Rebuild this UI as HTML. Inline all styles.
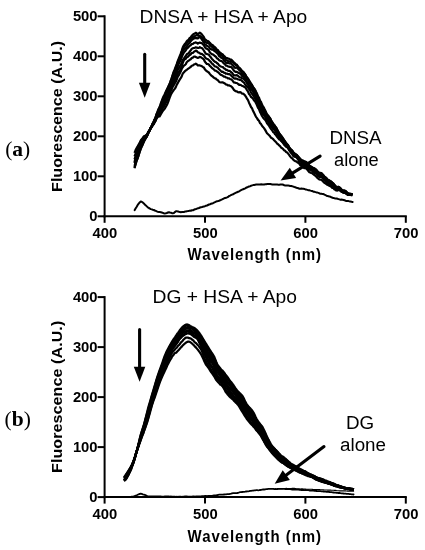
<!DOCTYPE html>
<html lang="en"><head><meta charset="utf-8"><title>Fluorescence spectra</title>
<style>html,body{margin:0;padding:0;background:#fff}svg{display:block;will-change:transform;transform:translateZ(0)}text{fill:#000}.s{font-family:"Liberation Sans", Arial, Helvetica, sans-serif}.sb{font-family:"Liberation Sans", Arial, Helvetica, sans-serif;font-weight:700}.tb{font-family:"Liberation Serif", "Times New Roman", Times, serif;font-weight:700}.ax{stroke:#000;stroke-width:2;fill:none;stroke-linecap:butt}.c{stroke:#000;stroke-width:2.2;fill:none;stroke-linejoin:round;stroke-linecap:butt}.c2{stroke:#000;stroke-width:2;fill:none;stroke-linejoin:round;stroke-linecap:round}.c3{stroke:#000;stroke-width:1.8;fill:none;stroke-linejoin:round;stroke-linecap:round}</style></head><body>
<svg width="425" height="550" viewBox="0 0 425 550">
<rect x="0" y="0" width="425" height="550" fill="#fff"/>
<path class="ax" d="M104.6,15.3 V217.3"/>
<path class="ax" d="M103.6,216.3 H406.8"/>
<path class="ax" d="M97.6,216.3 H104.6"/>
<text class="sb" font-size="14.8" text-anchor="end" x="97.6" y="220.9">0</text>
<path class="ax" d="M97.6,176.3 H104.6"/>
<text class="sb" font-size="14.8" text-anchor="end" x="97.6" y="180.9">100</text>
<path class="ax" d="M97.6,136.3 H104.6"/>
<text class="sb" font-size="14.8" text-anchor="end" x="97.6" y="140.9">200</text>
<path class="ax" d="M97.6,96.3 H104.6"/>
<text class="sb" font-size="14.8" text-anchor="end" x="97.6" y="100.9">300</text>
<path class="ax" d="M97.6,56.3 H104.6"/>
<text class="sb" font-size="14.8" text-anchor="end" x="97.6" y="60.9">400</text>
<path class="ax" d="M97.6,16.3 H104.6"/>
<text class="sb" font-size="14.8" text-anchor="end" x="97.6" y="20.9">500</text>
<path class="ax" d="M104.6,216.3 V222.8"/>
<text class="sb" font-size="14.8" text-anchor="middle" x="104.9" y="237.8">400</text>
<path class="ax" d="M205.0,216.3 V222.8"/>
<text class="sb" font-size="14.8" text-anchor="middle" x="205.3" y="237.8">500</text>
<path class="ax" d="M305.4,216.3 V222.8"/>
<text class="sb" font-size="14.8" text-anchor="middle" x="305.7" y="237.8">600</text>
<path class="ax" d="M405.8,216.3 V222.8"/>
<text class="sb" font-size="14.8" text-anchor="middle" x="406.1" y="237.8">700</text>
<text class="sb" font-size="15" textLength="133.5" lengthAdjust="spacing" transform="translate(187.6,260.3) scale(1,1.08)">Wavelength (nm)</text>
<text class="sb" font-size="15" textLength="141.1" lengthAdjust="spacing" transform="translate(62.3,191.9) rotate(-90) scale(1.07,1)">Fluorescence (A.U.)</text>
<path class="c" d="M134.5,152.9 L135.5,150.3 L136.5,148.3 L137.5,146.7 L138.5,144.8 L139.5,143.2 L140.5,140.9 L141.5,139.5 L142.6,138.3 L143.6,136.7 L144.6,135.9 L145.6,135.5 L146.6,134.9 L147.6,133.7 L148.6,132.1 L149.6,130.5 L150.6,128.3 L151.6,127.1 L152.6,125.1 L153.6,124.2 L154.6,121.9 L155.6,120.0 L156.6,118.2 L157.6,117.2 L158.6,116.4 L159.6,116.4 L160.6,114.6 L161.6,113.0 L162.6,111.2 L163.6,110.1 L164.6,108.9 L165.6,107.2 L166.6,105.5 L167.7,103.2 L168.7,100.5 L169.7,97.6 L170.7,95.0 L171.7,93.1 L172.7,91.5 L173.7,90.1 L174.7,88.9 L175.7,87.3 L176.7,84.9 L177.7,83.1 L178.7,81.3 L179.7,79.7 L180.7,78.2 L181.7,76.4 L182.7,73.7 L183.7,72.5 L184.7,71.4 L185.7,70.5 L186.7,69.8 L187.7,69.0 L188.7,68.4 L189.7,67.7 L190.7,66.9 L191.7,65.8 L192.8,65.5 L193.8,64.6 L194.8,64.2 L195.8,63.6 L196.8,64.3 L197.8,65.4 L198.8,65.4 L199.8,65.4 L200.8,65.8 L201.8,66.2 L202.8,66.9 L203.8,67.4 L204.8,69.2 L205.8,70.4 L206.8,71.3 L207.8,71.8 L208.8,72.5 L209.8,73.9 L210.8,75.1 L211.8,76.0 L212.8,76.6 L213.8,77.6 L214.8,78.3 L215.8,78.6 L216.8,79.6 L217.9,80.2 L218.9,81.6 L219.9,82.2 L220.9,82.5 L221.9,82.3 L222.9,82.4 L223.9,82.9 L224.9,83.4 L225.9,84.5 L226.9,84.6 L227.9,85.4 L228.9,85.3 L229.9,85.8 L230.9,86.2 L231.9,87.0 L232.9,88.2 L233.9,89.9 L234.9,90.8 L235.9,91.3 L236.9,91.3 L237.9,92.1 L238.9,92.3 L239.9,92.2 L240.9,92.4 L241.9,93.6 L243.0,93.5 L244.0,94.4 L245.0,95.3 L246.0,96.8 L247.0,98.7 L248.0,100.2 L249.0,102.7 L250.0,104.7 L251.0,107.0 L252.0,108.2 L253.0,110.8 L254.0,112.6 L255.0,114.8 L256.0,116.9 L257.0,118.1 L258.0,119.9 L259.0,120.8 L260.0,123.1 L261.0,123.9 L262.0,125.8 L263.0,126.9 L264.0,128.1 L265.0,129.6 L266.0,131.4 L267.0,133.3 L268.1,134.3 L269.1,135.2 L270.1,136.3 L271.1,137.8 L272.1,138.2 L273.1,139.1 L274.1,140.2 L275.1,141.2 L276.1,142.2 L277.1,143.6 L278.1,144.2 L279.1,145.4 L280.1,146.2 L281.1,147.6 L282.1,148.2 L283.1,149.0 L284.1,150.3 L285.1,150.8 L286.1,151.9 L287.1,152.4 L288.1,153.6 L289.1,154.9 L290.1,156.4 L291.1,157.6 L292.1,158.2 L293.2,159.7 L294.2,160.5 L295.2,161.2 L296.2,161.4 L297.2,162.2 L298.2,162.8 L299.2,163.5 L300.2,165.1 L301.2,165.4 L302.2,166.7 L303.2,167.4 L304.2,168.1 L305.2,168.1 L306.2,168.6 L307.2,169.5 L308.2,170.8 L309.2,172.1 L310.2,172.4 L311.2,173.0 L312.2,173.3 L313.2,174.2 L314.2,175.0 L315.2,175.6 L316.2,176.5 L317.2,177.7 L318.3,178.6 L319.3,179.4 L320.3,179.6 L321.3,179.6 L322.3,180.6 L323.3,181.8 L324.3,182.8 L325.3,183.4 L326.3,184.0 L327.3,184.8 L328.3,185.1 L329.3,185.8 L330.3,186.2 L331.3,186.9 L332.3,187.9 L333.3,187.9 L334.3,189.3 L335.3,189.8 L336.3,190.5 L337.3,190.6 L338.3,190.0 L339.3,190.3 L340.3,190.6 L341.3,191.4 L342.3,192.1 L343.4,192.7 L344.4,192.3 L345.4,192.9 L346.4,193.6 L347.4,193.9 L348.4,194.8 L349.4,194.7 L350.4,194.9 L351.4,195.1 L352.4,195.3"/>
<path class="c" d="M134.5,156.4 L135.5,153.8 L136.5,151.5 L137.5,149.6 L138.5,147.0 L139.5,144.6 L140.5,142.1 L141.5,140.0 L142.6,139.1 L143.6,137.6 L144.6,136.5 L145.6,136.1 L146.6,134.9 L147.6,133.6 L148.6,131.7 L149.6,130.3 L150.6,128.1 L151.6,126.7 L152.6,124.7 L153.6,123.9 L154.6,122.2 L155.6,120.3 L156.6,117.6 L157.6,116.1 L158.6,114.7 L159.6,114.1 L160.6,112.6 L161.6,110.3 L162.6,108.4 L163.6,107.2 L164.6,105.6 L165.6,103.3 L166.6,101.3 L167.7,98.2 L168.7,96.1 L169.7,93.9 L170.7,91.2 L171.7,89.4 L172.7,86.9 L173.7,85.3 L174.7,83.4 L175.7,81.9 L176.7,79.7 L177.7,76.9 L178.7,75.4 L179.7,73.4 L180.7,71.5 L181.7,69.0 L182.7,67.3 L183.7,65.9 L184.7,65.2 L185.7,64.3 L186.7,62.2 L187.7,61.2 L188.7,60.6 L189.7,59.8 L190.7,59.3 L191.7,58.0 L192.8,57.6 L193.8,56.7 L194.8,56.6 L195.8,57.1 L196.8,57.6 L197.8,58.0 L198.8,57.6 L199.8,56.9 L200.8,57.2 L201.8,57.9 L202.8,58.5 L203.8,59.5 L204.8,61.5 L205.8,62.8 L206.8,63.9 L207.8,64.0 L208.8,64.5 L209.8,65.9 L210.8,66.7 L211.8,67.9 L212.8,68.7 L213.8,69.4 L214.8,70.6 L215.8,70.6 L216.8,71.3 L217.9,72.2 L218.9,73.0 L219.9,74.1 L220.9,74.9 L221.9,75.2 L222.9,75.9 L223.9,76.6 L224.9,76.7 L225.9,77.5 L226.9,77.5 L227.9,78.3 L228.9,78.3 L229.9,78.9 L230.9,79.3 L231.9,79.9 L232.9,81.2 L233.9,82.5 L234.9,82.6 L235.9,83.0 L236.9,83.0 L237.9,83.8 L238.9,84.8 L239.9,84.7 L240.9,85.0 L241.9,85.8 L243.0,86.1 L244.0,86.7 L245.0,87.2 L246.0,88.4 L247.0,90.1 L248.0,91.5 L249.0,94.0 L250.0,95.0 L251.0,96.9 L252.0,97.8 L253.0,98.7 L254.0,100.4 L255.0,101.3 L256.0,103.1 L257.0,105.3 L258.0,107.8 L259.0,109.1 L260.0,112.0 L261.0,113.7 L262.0,116.0 L263.0,117.5 L264.0,118.7 L265.0,119.7 L266.0,121.1 L267.0,123.2 L268.1,124.5 L269.1,125.9 L270.1,127.6 L271.1,129.1 L272.1,130.3 L273.1,132.0 L274.1,132.7 L275.1,134.3 L276.1,135.3 L277.1,136.8 L278.1,138.1 L279.1,139.4 L280.1,139.7 L281.1,141.0 L282.1,141.8 L283.1,143.2 L284.1,144.7 L285.1,145.7 L286.1,146.8 L287.1,147.3 L288.1,148.2 L289.1,150.0 L290.1,151.7 L291.1,153.0 L292.1,154.1 L293.2,155.9 L294.2,156.7 L295.2,156.8 L296.2,157.3 L297.2,158.3 L298.2,159.5 L299.2,161.7 L300.2,163.4 L301.2,163.6 L302.2,164.4 L303.2,164.8 L304.2,165.2 L305.2,165.4 L306.2,166.1 L307.2,167.5 L308.2,168.5 L309.2,169.7 L310.2,169.9 L311.2,170.4 L312.2,171.0 L313.2,172.3 L314.2,172.8 L315.2,173.2 L316.2,173.7 L317.2,174.8 L318.3,176.3 L319.3,176.8 L320.3,176.9 L321.3,177.0 L322.3,177.5 L323.3,178.7 L324.3,180.4 L325.3,181.1 L326.3,182.1 L327.3,183.4 L328.3,184.2 L329.3,184.4 L330.3,185.5 L331.3,185.4 L332.3,186.0 L333.3,186.5 L334.3,187.4 L335.3,188.7 L336.3,189.9 L337.3,189.6 L338.3,189.4 L339.3,189.5 L340.3,190.3 L341.3,191.5 L342.3,191.9 L343.4,192.6 L344.4,192.8 L345.4,193.1 L346.4,193.9 L347.4,194.8 L348.4,195.0 L349.4,195.0 L350.4,194.8 L351.4,195.0 L352.4,194.9"/>
<path class="c" d="M134.5,159.3 L135.5,156.3 L136.5,153.6 L137.5,151.2 L138.5,148.8 L139.5,146.4 L140.5,144.0 L141.5,142.1 L142.6,140.8 L143.6,138.7 L144.6,137.6 L145.6,136.6 L146.6,135.2 L147.6,133.7 L148.6,131.9 L149.6,130.5 L150.6,128.3 L151.6,127.1 L152.6,125.6 L153.6,124.1 L154.6,122.3 L155.6,120.8 L156.6,117.8 L157.6,116.1 L158.6,114.2 L159.6,113.2 L160.6,111.3 L161.6,109.3 L162.6,107.4 L163.6,104.7 L164.6,103.0 L165.6,100.8 L166.6,99.0 L167.7,97.3 L168.7,94.6 L169.7,91.6 L170.7,88.9 L171.7,86.5 L172.7,84.1 L173.7,82.3 L174.7,80.6 L175.7,77.9 L176.7,76.2 L177.7,73.6 L178.7,71.8 L179.7,71.0 L180.7,68.8 L181.7,66.1 L182.7,63.1 L183.7,60.7 L184.7,59.4 L185.7,58.8 L186.7,57.3 L187.7,56.9 L188.7,55.9 L189.7,54.9 L190.7,54.4 L191.7,53.0 L192.8,53.0 L193.8,51.9 L194.8,51.3 L195.8,50.6 L196.8,51.1 L197.8,52.2 L198.8,52.6 L199.8,53.3 L200.8,53.9 L201.8,53.9 L202.8,54.7 L203.8,55.2 L204.8,56.9 L205.8,58.3 L206.8,58.8 L207.8,59.1 L208.8,59.8 L209.8,61.1 L210.8,61.9 L211.8,63.5 L212.8,64.0 L213.8,65.2 L214.8,66.4 L215.8,66.5 L216.8,67.1 L217.9,67.8 L218.9,69.2 L219.9,70.0 L220.9,71.0 L221.9,71.8 L222.9,71.7 L223.9,72.6 L224.9,72.9 L225.9,73.8 L226.9,73.5 L227.9,74.1 L228.9,74.1 L229.9,74.4 L230.9,75.2 L231.9,76.4 L232.9,77.2 L233.9,78.3 L234.9,78.6 L235.9,78.4 L236.9,78.8 L237.9,79.3 L238.9,79.5 L239.9,79.9 L240.9,80.0 L241.9,80.9 L243.0,81.9 L244.0,82.6 L245.0,84.3 L246.0,85.6 L247.0,86.6 L248.0,87.5 L249.0,89.0 L250.0,90.2 L251.0,92.6 L252.0,93.8 L253.0,95.2 L254.0,96.8 L255.0,98.2 L256.0,100.5 L257.0,102.8 L258.0,105.2 L259.0,106.4 L260.0,109.2 L261.0,110.4 L262.0,112.7 L263.0,114.3 L264.0,115.1 L265.0,116.7 L266.0,118.6 L267.0,120.6 L268.1,121.8 L269.1,123.3 L270.1,124.7 L271.1,126.3 L272.1,127.5 L273.1,128.8 L274.1,129.5 L275.1,130.9 L276.1,132.3 L277.1,134.1 L278.1,135.7 L279.1,137.6 L280.1,138.5 L281.1,140.0 L282.1,141.4 L283.1,142.5 L284.1,144.0 L285.1,144.8 L286.1,145.8 L287.1,146.6 L288.1,147.7 L289.1,149.6 L290.1,150.6 L291.1,151.7 L292.1,152.4 L293.2,153.6 L294.2,154.4 L295.2,155.4 L296.2,156.0 L297.2,157.3 L298.2,158.4 L299.2,159.5 L300.2,161.0 L301.2,161.5 L302.2,162.8 L303.2,163.2 L304.2,164.1 L305.2,164.0 L306.2,164.3 L307.2,165.5 L308.2,166.6 L309.2,167.9 L310.2,168.8 L311.2,169.6 L312.2,170.0 L313.2,170.7 L314.2,171.1 L315.2,172.7 L316.2,173.2 L317.2,174.4 L318.3,175.5 L319.3,175.8 L320.3,176.2 L321.3,176.4 L322.3,177.0 L323.3,178.1 L324.3,179.0 L325.3,179.8 L326.3,181.2 L327.3,182.4 L328.3,183.5 L329.3,183.6 L330.3,184.4 L331.3,185.0 L332.3,186.1 L333.3,186.8 L334.3,188.0 L335.3,188.9 L336.3,189.4 L337.3,189.4 L338.3,189.1 L339.3,189.2 L340.3,190.0 L341.3,191.2 L342.3,191.6 L343.4,191.9 L344.4,191.8 L345.4,191.8 L346.4,192.8 L347.4,193.9 L348.4,194.1 L349.4,194.4 L350.4,194.5 L351.4,194.3 L352.4,194.8"/>
<path class="c" d="M134.5,162.0 L135.5,158.3 L136.5,155.9 L137.5,153.5 L138.5,151.0 L139.5,148.7 L140.5,145.6 L141.5,143.8 L142.6,141.9 L143.6,139.9 L144.6,138.8 L145.6,137.5 L146.6,135.3 L147.6,134.0 L148.6,131.7 L149.6,130.3 L150.6,128.3 L151.6,127.1 L152.6,124.8 L153.6,123.1 L154.6,121.1 L155.6,119.5 L156.6,116.5 L157.6,114.8 L158.6,112.7 L159.6,110.7 L160.6,109.0 L161.6,106.5 L162.6,104.0 L163.6,102.4 L164.6,100.7 L165.6,99.0 L166.6,97.4 L167.7,95.3 L168.7,92.9 L169.7,89.8 L170.7,87.2 L171.7,84.9 L172.7,82.0 L173.7,79.8 L174.7,77.9 L175.7,75.5 L176.7,73.2 L177.7,70.3 L178.7,68.4 L179.7,66.5 L180.7,64.8 L181.7,62.9 L182.7,60.1 L183.7,58.8 L184.7,57.3 L185.7,56.0 L186.7,54.4 L187.7,53.5 L188.7,53.4 L189.7,51.6 L190.7,50.5 L191.7,48.9 L192.8,48.3 L193.8,48.0 L194.8,47.8 L195.8,47.3 L196.8,47.7 L197.8,47.9 L198.8,48.0 L199.8,47.1 L200.8,47.7 L201.8,48.0 L202.8,49.0 L203.8,50.5 L204.8,52.1 L205.8,53.7 L206.8,54.0 L207.8,54.3 L208.8,54.7 L209.8,56.1 L210.8,57.3 L211.8,58.7 L212.8,59.7 L213.8,60.9 L214.8,61.8 L215.8,61.9 L216.8,63.0 L217.9,63.7 L218.9,65.1 L219.9,65.9 L220.9,66.5 L221.9,66.8 L222.9,67.0 L223.9,68.3 L224.9,68.7 L225.9,69.8 L226.9,69.9 L227.9,70.6 L228.9,70.8 L229.9,71.0 L230.9,72.0 L231.9,72.6 L232.9,74.0 L233.9,75.5 L234.9,75.3 L235.9,75.4 L236.9,75.0 L237.9,75.8 L238.9,76.8 L239.9,77.3 L240.9,77.5 L241.9,78.3 L243.0,78.3 L244.0,79.2 L245.0,80.4 L246.0,81.6 L247.0,83.6 L248.0,84.7 L249.0,86.6 L250.0,87.8 L251.0,89.5 L252.0,90.1 L253.0,91.8 L254.0,93.8 L255.0,95.4 L256.0,98.2 L257.0,100.0 L258.0,102.1 L259.0,103.5 L260.0,106.0 L261.0,107.7 L262.0,110.5 L263.0,112.2 L264.0,113.7 L265.0,115.2 L266.0,116.9 L267.0,118.9 L268.1,120.3 L269.1,121.7 L270.1,123.3 L271.1,124.8 L272.1,125.9 L273.1,127.9 L274.1,128.2 L275.1,129.9 L276.1,130.9 L277.1,132.3 L278.1,133.9 L279.1,136.7 L280.1,138.0 L281.1,139.3 L282.1,140.1 L283.1,140.6 L284.1,142.1 L285.1,143.5 L286.1,145.0 L287.1,146.2 L288.1,147.3 L289.1,149.1 L290.1,150.4 L291.1,150.9 L292.1,151.3 L293.2,152.5 L294.2,154.0 L295.2,155.1 L296.2,155.8 L297.2,157.7 L298.2,159.0 L299.2,159.9 L300.2,161.4 L301.2,161.5 L302.2,161.9 L303.2,162.5 L304.2,163.1 L305.2,162.6 L306.2,163.7 L307.2,164.5 L308.2,165.1 L309.2,166.6 L310.2,166.5 L311.2,167.9 L312.2,168.7 L313.2,169.6 L314.2,170.7 L315.2,171.0 L316.2,171.4 L317.2,172.5 L318.3,173.3 L319.3,174.8 L320.3,174.8 L321.3,175.0 L322.3,176.2 L323.3,177.5 L324.3,178.7 L325.3,180.1 L326.3,181.2 L327.3,181.8 L328.3,182.9 L329.3,183.5 L330.3,184.0 L331.3,184.6 L332.3,185.6 L333.3,185.3 L334.3,186.4 L335.3,187.2 L336.3,188.4 L337.3,188.5 L338.3,188.1 L339.3,188.4 L340.3,188.9 L341.3,189.9 L342.3,190.6 L343.4,191.5 L344.4,191.6 L345.4,192.3 L346.4,193.4 L347.4,194.1 L348.4,194.3 L349.4,194.3 L350.4,194.4 L351.4,194.4 L352.4,195.0"/>
<path class="c" d="M134.5,163.3 L135.5,159.8 L136.5,156.3 L137.5,154.0 L138.5,152.1 L139.5,149.5 L140.5,146.9 L141.5,144.6 L142.6,143.0 L143.6,140.8 L144.6,139.4 L145.6,138.4 L146.6,136.9 L147.6,135.0 L148.6,132.3 L149.6,130.5 L150.6,128.3 L151.6,126.7 L152.6,124.2 L153.6,122.5 L154.6,120.0 L155.6,118.3 L156.6,115.6 L157.6,113.8 L158.6,111.7 L159.6,110.0 L160.6,107.4 L161.6,104.6 L162.6,102.5 L163.6,100.5 L164.6,98.6 L165.6,96.1 L166.6,93.7 L167.7,91.7 L168.7,89.6 L169.7,87.2 L170.7,84.5 L171.7,82.1 L172.7,79.3 L173.7,76.9 L174.7,74.9 L175.7,71.8 L176.7,69.0 L177.7,66.6 L178.7,63.8 L179.7,62.1 L180.7,60.2 L181.7,57.3 L182.7,54.8 L183.7,52.9 L184.7,51.6 L185.7,50.5 L186.7,48.8 L187.7,47.9 L188.7,46.9 L189.7,45.7 L190.7,45.2 L191.7,44.1 L192.8,44.0 L193.8,43.1 L194.8,42.7 L195.8,42.4 L196.8,42.8 L197.8,43.6 L198.8,43.0 L199.8,42.5 L200.8,43.0 L201.8,43.1 L202.8,44.2 L203.8,45.2 L204.8,47.0 L205.8,48.2 L206.8,48.8 L207.8,49.3 L208.8,50.1 L209.8,52.2 L210.8,53.2 L211.8,54.1 L212.8,54.3 L213.8,55.1 L214.8,56.0 L215.8,56.7 L216.8,58.2 L217.9,58.8 L218.9,60.0 L219.9,60.7 L220.9,60.9 L221.9,61.2 L222.9,62.3 L223.9,63.6 L224.9,64.1 L225.9,65.6 L226.9,65.7 L227.9,66.4 L228.9,66.6 L229.9,66.9 L230.9,66.9 L231.9,67.8 L232.9,69.2 L233.9,70.7 L234.9,71.4 L235.9,71.9 L236.9,71.9 L237.9,72.5 L238.9,73.1 L239.9,73.6 L240.9,74.2 L241.9,75.9 L243.0,76.6 L244.0,77.1 L245.0,78.6 L246.0,79.8 L247.0,81.5 L248.0,83.0 L249.0,85.0 L250.0,86.5 L251.0,87.8 L252.0,88.6 L253.0,89.9 L254.0,90.8 L255.0,93.1 L256.0,95.6 L257.0,97.5 L258.0,100.0 L259.0,101.7 L260.0,104.1 L261.0,105.2 L262.0,108.1 L263.0,109.3 L264.0,110.8 L265.0,113.1 L266.0,115.0 L267.0,116.9 L268.1,118.3 L269.1,119.5 L270.1,120.8 L271.1,123.1 L272.1,124.5 L273.1,126.7 L274.1,127.6 L275.1,129.3 L276.1,130.4 L277.1,131.7 L278.1,133.6 L279.1,135.5 L280.1,136.9 L281.1,138.3 L282.1,139.0 L283.1,139.9 L284.1,141.4 L285.1,142.8 L286.1,144.7 L287.1,145.8 L288.1,147.1 L289.1,149.1 L290.1,150.3 L291.1,151.0 L292.1,151.3 L293.2,152.4 L294.2,153.7 L295.2,154.7 L296.2,155.7 L297.2,157.0 L298.2,158.2 L299.2,159.7 L300.2,160.7 L301.2,160.8 L302.2,161.3 L303.2,161.6 L304.2,162.4 L305.2,162.7 L306.2,163.5 L307.2,164.2 L308.2,165.3 L309.2,166.2 L310.2,166.2 L311.2,167.5 L312.2,167.9 L313.2,169.1 L314.2,169.5 L315.2,170.4 L316.2,170.8 L317.2,172.0 L318.3,173.4 L319.3,173.4 L320.3,173.7 L321.3,173.8 L322.3,175.1 L323.3,177.0 L324.3,178.4 L325.3,178.7 L326.3,179.5 L327.3,180.9 L328.3,181.7 L329.3,182.4 L330.3,182.7 L331.3,182.7 L332.3,184.5 L333.3,185.1 L334.3,187.1 L335.3,188.1 L336.3,188.3 L337.3,188.5 L338.3,187.6 L339.3,188.0 L340.3,189.0 L341.3,190.0 L342.3,191.1 L343.4,191.6 L344.4,191.3 L345.4,191.2 L346.4,192.1 L347.4,193.0 L348.4,193.5 L349.4,193.7 L350.4,193.8 L351.4,194.1 L352.4,194.5"/>
<path class="c" d="M134.5,165.8 L135.5,162.8 L136.5,159.5 L137.5,156.6 L138.5,153.6 L139.5,150.3 L140.5,147.6 L141.5,145.3 L142.6,143.4 L143.6,141.2 L144.6,139.4 L145.6,137.9 L146.6,136.5 L147.6,134.7 L148.6,131.7 L149.6,130.3 L150.6,128.1 L151.6,126.3 L152.6,123.8 L153.6,122.0 L154.6,119.6 L155.6,118.1 L156.6,115.0 L157.6,113.2 L158.6,110.5 L159.6,108.5 L160.6,106.5 L161.6,103.7 L162.6,101.4 L163.6,98.8 L164.6,96.9 L165.6,94.3 L166.6,91.7 L167.7,90.4 L168.7,88.2 L169.7,86.3 L170.7,83.8 L171.7,81.0 L172.7,78.2 L173.7,75.4 L174.7,73.4 L175.7,70.0 L176.7,67.1 L177.7,63.1 L178.7,60.4 L179.7,58.5 L180.7,56.0 L181.7,53.9 L182.7,51.3 L183.7,49.7 L184.7,48.9 L185.7,47.7 L186.7,46.5 L187.7,44.9 L188.7,43.7 L189.7,42.8 L190.7,41.2 L191.7,40.0 L192.8,39.3 L193.8,38.2 L194.8,38.3 L195.8,37.7 L196.8,38.3 L197.8,38.4 L198.8,37.4 L199.8,37.1 L200.8,37.9 L201.8,39.4 L202.8,40.9 L203.8,42.2 L204.8,44.1 L205.8,44.8 L206.8,45.7 L207.8,46.3 L208.8,46.7 L209.8,48.4 L210.8,48.9 L211.8,49.6 L212.8,49.7 L213.8,50.5 L214.8,51.2 L215.8,51.8 L216.8,52.9 L217.9,53.8 L218.9,55.8 L219.9,56.5 L220.9,57.5 L221.9,58.0 L222.9,58.5 L223.9,60.4 L224.9,61.4 L225.9,62.6 L226.9,62.9 L227.9,63.0 L228.9,63.2 L229.9,63.6 L230.9,62.9 L231.9,64.5 L232.9,65.6 L233.9,66.7 L234.9,67.9 L235.9,67.6 L236.9,67.5 L237.9,68.7 L238.9,69.6 L239.9,70.6 L240.9,71.7 L241.9,73.5 L243.0,74.6 L244.0,76.0 L245.0,76.9 L246.0,78.0 L247.0,79.1 L248.0,79.4 L249.0,82.0 L250.0,83.3 L251.0,85.7 L252.0,87.3 L253.0,88.4 L254.0,89.7 L255.0,91.2 L256.0,93.2 L257.0,95.5 L258.0,98.4 L259.0,99.7 L260.0,102.4 L261.0,103.7 L262.0,106.1 L263.0,108.1 L264.0,110.5 L265.0,112.5 L266.0,114.7 L267.0,116.5 L268.1,117.0 L269.1,117.8 L270.1,119.0 L271.1,121.0 L272.1,122.5 L273.1,124.7 L274.1,125.8 L275.1,127.4 L276.1,128.3 L277.1,130.6 L278.1,132.4 L279.1,134.9 L280.1,136.5 L281.1,137.8 L282.1,138.7 L283.1,139.7 L284.1,141.8 L285.1,142.6 L286.1,144.4 L287.1,145.6 L288.1,146.2 L289.1,148.5 L290.1,150.0 L291.1,150.6 L292.1,151.4 L293.2,152.8 L294.2,153.3 L295.2,154.2 L296.2,154.5 L297.2,155.7 L298.2,157.1 L299.2,157.9 L300.2,159.7 L301.2,160.3 L302.2,161.2 L303.2,161.9 L304.2,162.3 L305.2,162.4 L306.2,162.8 L307.2,163.6 L308.2,164.7 L309.2,166.4 L310.2,166.1 L311.2,167.4 L312.2,167.8 L313.2,168.0 L314.2,169.5 L315.2,169.8 L316.2,170.3 L317.2,171.8 L318.3,172.5 L319.3,173.5 L320.3,173.8 L321.3,173.6 L322.3,175.0 L323.3,176.1 L324.3,177.5 L325.3,178.0 L326.3,178.5 L327.3,179.8 L328.3,180.0 L329.3,180.7 L330.3,181.4 L331.3,181.6 L332.3,183.5 L333.3,183.7 L334.3,185.1 L335.3,186.6 L336.3,187.3 L337.3,188.1 L338.3,188.1 L339.3,188.1 L340.3,188.8 L341.3,189.9 L342.3,190.7 L343.4,191.4 L344.4,191.4 L345.4,191.4 L346.4,192.1 L347.4,193.6 L348.4,194.0 L349.4,194.0 L350.4,194.0 L351.4,194.1 L352.4,194.6"/>
<path class="c" d="M134.5,167.6 L135.5,163.9 L136.5,160.9 L137.5,158.6 L138.5,155.6 L139.5,152.3 L140.5,149.4 L141.5,146.8 L142.6,144.4 L143.6,142.1 L144.6,139.9 L145.6,137.5 L146.6,135.7 L147.6,133.8 L148.6,131.7 L149.6,130.3 L150.6,128.1 L151.6,126.3 L152.6,123.8 L153.6,122.0 L154.6,119.7 L155.6,117.4 L156.6,114.1 L157.6,112.2 L158.6,109.4 L159.6,107.7 L160.6,105.2 L161.6,102.1 L162.6,99.5 L163.6,97.6 L164.6,95.7 L165.6,93.0 L166.6,90.9 L167.7,88.3 L168.7,85.7 L169.7,83.5 L170.7,80.7 L171.7,78.4 L172.7,75.3 L173.7,72.7 L174.7,70.7 L175.7,67.5 L176.7,65.2 L177.7,62.5 L178.7,60.1 L179.7,57.8 L180.7,55.4 L181.7,52.1 L182.7,49.1 L183.7,47.4 L184.7,45.8 L185.7,44.7 L186.7,43.4 L187.7,42.1 L188.7,41.4 L189.7,40.1 L190.7,38.6 L191.7,37.2 L192.8,37.3 L193.8,36.4 L194.8,36.0 L195.8,35.5 L196.8,35.1 L197.8,35.6 L198.8,35.4 L199.8,35.8 L200.8,36.5 L201.8,37.5 L202.8,38.7 L203.8,39.5 L204.8,41.2 L205.8,42.2 L206.8,42.9 L207.8,43.0 L208.8,43.4 L209.8,45.0 L210.8,45.8 L211.8,46.6 L212.8,47.6 L213.8,48.4 L214.8,49.5 L215.8,49.8 L216.8,50.5 L217.9,51.5 L218.9,53.0 L219.9,54.3 L220.9,55.4 L221.9,55.8 L222.9,56.4 L223.9,57.9 L224.9,58.4 L225.9,60.1 L226.9,60.5 L227.9,61.0 L228.9,61.5 L229.9,61.2 L230.9,60.9 L231.9,61.3 L232.9,62.1 L233.9,63.6 L234.9,64.4 L235.9,65.3 L236.9,65.1 L237.9,66.7 L238.9,67.6 L239.9,68.3 L240.9,69.9 L241.9,70.9 L243.0,71.8 L244.0,72.8 L245.0,74.1 L246.0,75.9 L247.0,77.9 L248.0,79.1 L249.0,81.0 L250.0,82.2 L251.0,84.1 L252.0,85.1 L253.0,87.3 L254.0,88.6 L255.0,90.0 L256.0,92.7 L257.0,94.6 L258.0,97.5 L259.0,99.3 L260.0,102.1 L261.0,103.6 L262.0,106.4 L263.0,107.8 L264.0,109.7 L265.0,111.4 L266.0,113.2 L267.0,115.2 L268.1,116.0 L269.1,117.4 L270.1,118.5 L271.1,120.9 L272.1,122.6 L273.1,124.3 L274.1,125.1 L275.1,126.4 L276.1,127.6 L277.1,129.5 L278.1,131.6 L279.1,133.3 L280.1,134.4 L281.1,135.8 L282.1,137.0 L283.1,138.4 L284.1,140.1 L285.1,141.6 L286.1,143.1 L287.1,144.3 L288.1,145.1 L289.1,147.6 L290.1,148.6 L291.1,149.9 L292.1,150.8 L293.2,152.2 L294.2,153.2 L295.2,154.8 L296.2,155.1 L297.2,155.8 L298.2,157.0 L299.2,157.8 L300.2,159.5 L301.2,160.5 L302.2,160.9 L303.2,161.1 L304.2,161.4 L305.2,161.6 L306.2,162.0 L307.2,163.1 L308.2,164.6 L309.2,166.1 L310.2,166.0 L311.2,167.1 L312.2,167.4 L313.2,168.4 L314.2,169.0 L315.2,169.7 L316.2,170.1 L317.2,171.0 L318.3,172.1 L319.3,173.2 L320.3,173.2 L321.3,173.2 L322.3,174.3 L323.3,175.3 L324.3,176.5 L325.3,177.4 L326.3,178.5 L327.3,180.0 L328.3,180.4 L329.3,181.0 L330.3,181.9 L331.3,182.0 L332.3,183.9 L333.3,184.1 L334.3,185.1 L335.3,186.2 L336.3,186.9 L337.3,187.0 L338.3,186.8 L339.3,187.3 L340.3,188.1 L341.3,189.3 L342.3,190.0 L343.4,190.5 L344.4,190.5 L345.4,190.9 L346.4,192.0 L347.4,193.0 L348.4,193.5 L349.4,193.7 L350.4,193.8 L351.4,194.1 L352.4,194.5"/>
<path class="c" d="M134.5,168.3 L135.5,164.6 L136.5,161.2 L137.5,158.6 L138.5,155.6 L139.5,152.5 L140.5,149.4 L141.5,147.1 L142.6,144.9 L143.6,142.4 L144.6,140.2 L145.6,138.4 L146.6,136.9 L147.6,134.6 L148.6,132.3 L149.6,130.4 L150.6,128.1 L151.6,126.3 L152.6,123.8 L153.6,122.0 L154.6,119.6 L155.6,117.4 L156.6,114.1 L157.6,111.5 L158.6,109.0 L159.6,107.0 L160.6,104.0 L161.6,101.3 L162.6,98.5 L163.6,96.3 L164.6,94.4 L165.6,92.1 L166.6,90.1 L167.7,88.0 L168.7,86.0 L169.7,84.3 L170.7,81.4 L171.7,78.2 L172.7,74.9 L173.7,71.6 L174.7,69.5 L175.7,66.8 L176.7,64.2 L177.7,61.1 L178.7,58.6 L179.7,56.3 L180.7,53.7 L181.7,50.8 L182.7,47.6 L183.7,45.6 L184.7,44.0 L185.7,43.0 L186.7,41.3 L187.7,40.3 L188.7,39.6 L189.7,37.9 L190.7,37.4 L191.7,35.7 L192.8,34.9 L193.8,33.9 L194.8,33.4 L195.8,32.8 L196.8,33.4 L197.8,34.0 L198.8,33.3 L199.8,32.6 L200.8,33.4 L201.8,34.4 L202.8,35.7 L203.8,37.0 L204.8,39.1 L205.8,39.9 L206.8,40.7 L207.8,41.0 L208.8,41.6 L209.8,42.9 L210.8,43.8 L211.8,44.6 L212.8,45.2 L213.8,46.2 L214.8,47.1 L215.8,48.0 L216.8,49.6 L217.9,50.0 L218.9,51.7 L219.9,52.5 L220.9,53.2 L221.9,54.1 L222.9,54.5 L223.9,56.0 L224.9,56.7 L225.9,57.9 L226.9,58.0 L227.9,58.7 L228.9,58.7 L229.9,59.2 L230.9,59.5 L231.9,60.2 L232.9,61.3 L233.9,62.5 L234.9,63.2 L235.9,64.3 L236.9,64.8 L237.9,66.4 L238.9,67.7 L239.9,68.4 L240.9,69.5 L241.9,71.0 L243.0,71.6 L244.0,73.0 L245.0,74.2 L246.0,76.1 L247.0,77.3 L248.0,78.4 L249.0,80.3 L250.0,81.8 L251.0,83.9 L252.0,84.9 L253.0,87.1 L254.0,88.2 L255.0,89.8 L256.0,91.8 L257.0,93.6 L258.0,96.3 L259.0,97.7 L260.0,100.6 L261.0,102.0 L262.0,104.6 L263.0,106.3 L264.0,107.9 L265.0,110.1 L266.0,112.1 L267.0,114.3 L268.1,115.5 L269.1,116.8 L270.1,118.2 L271.1,120.3 L272.1,121.8 L273.1,123.6 L274.1,124.7 L275.1,126.2 L276.1,127.6 L277.1,129.5 L278.1,131.1 L279.1,133.3 L280.1,134.4 L281.1,135.8 L282.1,137.4 L283.1,138.9 L284.1,140.2 L285.1,141.5 L286.1,143.1 L287.1,144.1 L288.1,145.4 L289.1,147.2 L290.1,148.4 L291.1,149.5 L292.1,150.4 L293.2,152.2 L294.2,153.2 L295.2,154.1 L296.2,154.5 L297.2,155.4 L298.2,156.6 L299.2,157.8 L300.2,159.1 L301.2,159.5 L302.2,160.3 L303.2,160.5 L304.2,161.5 L305.2,162.0 L306.2,162.1 L307.2,163.5 L308.2,164.1 L309.2,165.2 L310.2,166.2 L311.2,167.2 L312.2,167.3 L313.2,168.1 L314.2,168.1 L315.2,168.9 L316.2,169.5 L317.2,171.1 L318.3,172.5 L319.3,172.8 L320.3,172.8 L321.3,173.0 L322.3,174.0 L323.3,175.3 L324.3,176.5 L325.3,177.2 L326.3,177.9 L327.3,179.0 L328.3,180.0 L329.3,180.4 L330.3,181.4 L331.3,181.6 L332.3,182.8 L333.3,183.3 L334.3,184.8 L335.3,185.8 L336.3,186.9 L337.3,187.0 L338.3,186.9 L339.3,187.3 L340.3,188.1 L341.3,189.7 L342.3,190.4 L343.4,190.7 L344.4,190.5 L345.4,190.9 L346.4,192.0 L347.4,193.6 L348.4,194.6 L349.4,194.4 L350.4,194.0 L351.4,194.3 L352.4,194.5"/>
<path class="c2" d="M134.7,210.1 L135.7,208.3 L136.7,206.7 L137.7,204.9 L138.7,203.6 L139.7,202.4 L140.7,201.5 L141.7,201.7 L142.8,202.5 L143.8,203.4 L144.8,204.5 L145.8,205.4 L146.8,206.4 L147.8,207.4 L148.8,208.0 L149.8,208.5 L150.8,209.1 L151.8,209.4 L152.8,209.8 L153.8,210.0 L154.8,210.5 L155.8,210.9 L156.8,211.4 L157.8,211.8 L158.8,211.9 L159.8,212.0 L160.8,212.2 L161.8,212.5 L162.8,212.9 L163.8,213.3 L164.8,213.5 L165.8,213.3 L166.8,213.0 L167.9,212.5 L168.9,212.2 L169.9,212.5 L170.9,212.7 L171.9,213.2 L172.9,213.2 L173.9,213.0 L174.9,212.1 L175.9,211.3 L176.9,211.3 L177.9,211.4 L178.9,211.8 L179.9,212.0 L180.9,212.2 L181.9,212.1 L182.9,212.0 L183.9,212.0 L184.9,211.6 L185.9,211.4 L186.9,211.2 L187.9,211.1 L188.9,210.9 L189.9,210.6 L190.9,210.7 L191.9,210.3 L193.0,210.3 L194.0,209.7 L195.0,209.3 L196.0,209.0 L197.0,208.6 L198.0,208.3 L199.0,208.0 L200.0,207.5 L201.0,207.2 L202.0,207.0 L203.0,206.7 L204.0,206.4 L205.0,206.2 L206.0,205.7 L207.0,205.5 L208.0,205.0 L209.0,204.5 L210.0,204.2 L211.0,203.8 L212.0,203.5 L213.0,203.2 L214.0,202.7 L215.0,202.2 L216.0,201.6 L217.0,201.3 L218.1,201.0 L219.1,200.7 L220.1,200.3 L221.1,199.8 L222.1,199.4 L223.1,198.8 L224.1,198.3 L225.1,198.1 L226.1,197.7 L227.1,197.4 L228.1,196.9 L229.1,196.0 L230.1,195.6 L231.1,195.0 L232.1,194.6 L233.1,194.3 L234.1,193.7 L235.1,193.2 L236.1,192.7 L237.1,192.2 L238.1,191.8 L239.1,191.4 L240.1,190.7 L241.1,190.2 L242.1,189.7 L243.2,189.2 L244.2,188.8 L245.2,188.3 L246.2,187.7 L247.2,187.3 L248.2,186.8 L249.2,186.4 L250.2,186.2 L251.2,185.7 L252.2,185.4 L253.2,185.1 L254.2,184.9 L255.2,184.7 L256.2,184.5 L257.2,184.5 L258.2,184.4 L259.2,184.4 L260.2,184.5 L261.2,184.3 L262.2,184.6 L263.2,184.5 L264.2,184.5 L265.2,184.3 L266.2,184.3 L267.2,184.1 L268.3,184.0 L269.3,184.1 L270.3,184.1 L271.3,184.3 L272.3,184.5 L273.3,184.5 L274.3,184.5 L275.3,184.5 L276.3,184.5 L277.3,184.6 L278.3,184.7 L279.3,184.7 L280.3,184.5 L281.3,184.5 L282.3,184.5 L283.3,184.8 L284.3,185.2 L285.3,185.5 L286.3,185.6 L287.3,185.6 L288.3,185.6 L289.3,185.7 L290.3,186.0 L291.3,186.0 L292.3,186.3 L293.4,186.6 L294.4,187.0 L295.4,187.3 L296.4,187.7 L297.4,188.0 L298.4,188.3 L299.4,188.7 L300.4,188.8 L301.4,188.6 L302.4,188.8 L303.4,188.7 L304.4,188.9 L305.4,189.5 L306.4,189.6 L307.4,189.9 L308.4,190.2 L309.4,190.2 L310.4,190.6 L311.4,190.9 L312.4,191.1 L313.4,191.7 L314.4,191.8 L315.4,192.1 L316.4,192.4 L317.4,192.6 L318.5,192.9 L319.5,193.5 L320.5,193.7 L321.5,193.8 L322.5,194.1 L323.5,194.1 L324.5,194.7 L325.5,195.2 L326.5,195.7 L327.5,196.1 L328.5,196.2 L329.5,196.6 L330.5,196.8 L331.5,197.3 L332.5,197.7 L333.5,197.9 L334.5,198.2 L335.5,198.4 L336.5,198.5 L337.5,198.8 L338.5,199.1 L339.5,199.4 L340.5,199.7 L341.5,199.6 L342.5,199.7 L343.6,200.0 L344.6,200.3 L345.6,200.7 L346.6,201.0 L347.6,201.1 L348.6,201.1 L349.6,201.4 L350.6,201.5 L351.6,201.8 L352.6,202.0"/>
<path d="M144.7,54.2 L144.7,84.8" stroke="#000" stroke-width="3.1" stroke-linecap="round" fill="none"/><path d="M144.7,97.8 L138.9,82.8 L150.4,82.8 Z" fill="#000"/>
<path d="M320.1,156.1 L291.2,173.9" stroke="#000" stroke-width="3.1" stroke-linecap="round" fill="none"/><path d="M280.6,180.5 L289.8,167.8 L296.1,178.0 Z" fill="#000"/>
<text class="s" font-size="18.8" x="139.5" y="23.1" textLength="167.8" lengthAdjust="spacingAndGlyphs">DNSA + HSA + Apo</text>
<text class="s" font-size="18.8" text-anchor="middle" x="355.5" y="143.6">DNSA</text>
<text class="s" font-size="18.8" x="334.1" y="165.8" textLength="44.7" lengthAdjust="spacingAndGlyphs">alone</text>
<text class="tb" font-size="21.5" x="5.2" y="155.9"><tspan font-weight="400">(</tspan>a<tspan font-weight="400">)</tspan></text>
<path class="ax" d="M104.6,296.1 V498.1"/>
<path class="ax" d="M103.6,497.1 H406.8"/>
<path class="ax" d="M97.6,497.1 H104.6"/>
<text class="sb" font-size="14.8" text-anchor="end" x="97.6" y="502.3">0</text>
<path class="ax" d="M97.6,447.1 H104.6"/>
<text class="sb" font-size="14.8" text-anchor="end" x="97.6" y="452.3">100</text>
<path class="ax" d="M97.6,397.1 H104.6"/>
<text class="sb" font-size="14.8" text-anchor="end" x="97.6" y="402.3">200</text>
<path class="ax" d="M97.6,347.1 H104.6"/>
<text class="sb" font-size="14.8" text-anchor="end" x="97.6" y="352.3">300</text>
<path class="ax" d="M97.6,297.1 H104.6"/>
<text class="sb" font-size="14.8" text-anchor="end" x="97.6" y="302.3">400</text>
<path class="ax" d="M104.6,497.1 V503.6"/>
<text class="sb" font-size="14.8" text-anchor="middle" x="104.9" y="518.6">400</text>
<path class="ax" d="M205.0,497.1 V503.6"/>
<text class="sb" font-size="14.8" text-anchor="middle" x="205.3" y="518.6">500</text>
<path class="ax" d="M305.4,497.1 V503.6"/>
<text class="sb" font-size="14.8" text-anchor="middle" x="305.7" y="518.6">600</text>
<path class="ax" d="M405.8,497.1 V503.6"/>
<text class="sb" font-size="14.8" text-anchor="middle" x="406.1" y="518.6">700</text>
<text class="sb" font-size="15" textLength="133.5" lengthAdjust="spacing" transform="translate(187.6,542.0) scale(1,1.08)">Wavelength (nm)</text>
<text class="sb" font-size="15" textLength="142.3" lengthAdjust="spacing" transform="translate(62.3,473.0) rotate(-90) scale(1.07,1)">Fluorescence (A.U.)</text>
<path class="c" d="M124.0,481.0 L125.0,480.2 L126.0,479.2 L127.0,477.6 L128.0,475.8 L129.0,473.9 L130.0,471.8 L131.0,469.6 L132.0,466.8 L133.0,464.1 L134.0,461.1 L135.0,457.5 L136.0,454.0 L137.0,450.8 L138.0,447.7 L139.0,445.0 L140.0,442.2 L141.0,439.4 L142.0,436.6 L143.1,433.8 L144.1,430.9 L145.1,428.2 L146.1,425.4 L147.1,422.6 L148.1,419.3 L149.1,415.8 L150.1,412.2 L151.1,408.4 L152.1,404.8 L153.1,402.0 L154.1,399.0 L155.1,396.3 L156.1,393.4 L157.1,390.4 L158.1,387.5 L159.1,384.5 L160.1,381.7 L161.1,379.2 L162.1,376.8 L163.1,374.6 L164.1,372.5 L165.1,370.3 L166.1,368.3 L167.1,365.8 L168.2,363.7 L169.2,361.8 L170.2,360.0 L171.2,358.5 L172.2,356.4 L173.2,355.3 L174.2,353.8 L175.2,352.9 L176.2,352.7 L177.2,351.6 L178.2,350.5 L179.2,349.4 L180.2,348.3 L181.2,347.1 L182.2,346.1 L183.2,345.0 L184.2,344.1 L185.2,343.2 L186.2,342.5 L187.2,341.9 L188.2,341.6 L189.2,341.7 L190.2,342.1 L191.2,342.8 L192.2,343.7 L193.3,344.7 L194.3,345.8 L195.3,346.9 L196.3,347.9 L197.3,349.1 L198.3,350.3 L199.3,351.7 L200.3,353.2 L201.3,354.7 L202.3,356.7 L203.3,358.9 L204.3,361.3 L205.3,363.4 L206.3,365.1 L207.3,366.3 L208.3,367.7 L209.3,369.2 L210.3,370.8 L211.3,372.3 L212.3,373.6 L213.3,375.1 L214.3,376.5 L215.3,378.4 L216.3,380.1 L217.3,381.3 L218.4,382.5 L219.4,383.5 L220.4,384.7 L221.4,385.1 L222.4,386.1 L223.4,387.6 L224.4,389.4 L225.4,391.5 L226.4,392.9 L227.4,394.2 L228.4,395.3 L229.4,396.4 L230.4,397.4 L231.4,398.3 L232.4,399.0 L233.4,400.0 L234.4,401.2 L235.4,402.1 L236.4,403.1 L237.4,404.2 L238.4,405.4 L239.4,406.9 L240.4,408.7 L241.4,410.4 L242.4,412.0 L243.5,413.7 L244.5,415.4 L245.5,417.0 L246.5,418.5 L247.5,419.8 L248.5,421.1 L249.5,422.3 L250.5,423.5 L251.5,424.6 L252.5,425.4 L253.5,426.8 L254.5,427.7 L255.5,429.1 L256.5,430.5 L257.5,431.4 L258.5,432.8 L259.5,434.0 L260.5,435.3 L261.5,437.0 L262.5,438.9 L263.5,440.6 L264.5,442.5 L265.5,444.3 L266.5,445.9 L267.5,447.3 L268.6,448.6 L269.6,450.1 L270.6,451.4 L271.6,452.6 L272.6,453.6 L273.6,454.7 L274.6,455.8 L275.6,456.9 L276.6,457.9 L277.6,458.9 L278.6,459.9 L279.6,460.7 L280.6,461.6 L281.6,462.4 L282.6,462.7 L283.6,463.5 L284.6,464.0 L285.6,464.9 L286.6,465.8 L287.6,466.4 L288.6,467.0 L289.6,467.4 L290.6,467.9 L291.6,468.5 L292.6,468.9 L293.7,469.3 L294.7,470.0 L295.7,470.7 L296.7,471.1 L297.7,471.6 L298.7,472.0 L299.7,472.4 L300.7,472.8 L301.7,473.3 L302.7,473.7 L303.7,474.2 L304.7,474.7 L305.7,475.2 L306.7,475.6 L307.7,476.1 L308.7,476.0 L309.7,476.3 L310.7,476.3 L311.7,476.8 L312.7,477.6 L313.7,477.8 L314.7,478.7 L315.7,479.2 L316.7,479.7 L317.7,480.1 L318.8,480.5 L319.8,480.9 L320.8,481.3 L321.8,481.7 L322.8,482.0 L323.8,482.4 L324.8,482.7 L325.8,483.0 L326.8,483.2 L327.8,483.2 L328.8,483.6 L329.8,483.8 L330.8,484.1 L331.8,484.7 L332.8,485.0 L333.8,485.7 L334.8,485.8 L335.8,485.9 L336.8,486.0 L337.8,486.2 L338.8,486.7 L339.8,487.3 L340.8,487.5 L341.8,487.8 L342.8,488.0 L343.9,488.2 L344.9,488.5 L345.9,488.7 L346.9,488.9 L347.9,489.1 L348.9,489.2 L349.9,489.3 L350.9,489.4 L351.9,489.5 L352.9,489.6 L353.9,489.6"/>
<path class="c" d="M124.0,480.7 L125.0,480.0 L126.0,478.9 L127.0,477.0 L128.0,475.5 L129.0,473.2 L130.0,471.5 L131.0,469.4 L132.0,466.4 L133.0,463.9 L134.0,460.4 L135.0,457.2 L136.0,453.6 L137.0,450.3 L138.0,447.6 L139.0,444.2 L140.0,441.9 L141.0,438.8 L142.0,436.0 L143.1,433.6 L144.1,430.5 L145.1,428.0 L146.1,424.7 L147.1,421.4 L148.1,418.3 L149.1,414.4 L150.1,410.3 L151.1,407.3 L152.1,403.8 L153.1,400.6 L154.1,398.0 L155.1,394.3 L156.1,391.2 L157.1,388.3 L158.1,385.1 L159.1,382.5 L160.1,380.1 L161.1,377.4 L162.1,375.0 L163.1,372.7 L164.1,369.8 L165.1,367.6 L166.1,365.0 L167.1,362.8 L168.2,360.8 L169.2,358.6 L170.2,356.5 L171.2,354.5 L172.2,352.6 L173.2,351.3 L174.2,350.4 L175.2,349.0 L176.2,348.2 L177.2,347.0 L178.2,345.7 L179.2,344.9 L180.2,343.5 L181.2,342.2 L182.2,341.4 L183.2,340.0 L184.2,339.0 L185.2,338.1 L186.2,337.6 L187.2,337.7 L188.2,337.6 L189.2,338.2 L190.2,338.3 L191.2,338.7 L192.2,339.7 L193.3,340.4 L194.3,341.8 L195.3,342.8 L196.3,343.3 L197.3,344.7 L198.3,345.5 L199.3,347.0 L200.3,348.2 L201.3,349.9 L202.3,352.2 L203.3,354.8 L204.3,358.0 L205.3,360.5 L206.3,362.3 L207.3,364.1 L208.3,365.4 L209.3,366.6 L210.3,368.5 L211.3,370.0 L212.3,371.5 L213.3,373.2 L214.3,374.6 L215.3,376.0 L216.3,377.8 L217.3,379.0 L218.4,379.9 L219.4,380.9 L220.4,382.3 L221.4,383.3 L222.4,384.9 L223.4,386.7 L224.4,387.9 L225.4,389.4 L226.4,390.7 L227.4,391.9 L228.4,393.1 L229.4,394.3 L230.4,395.1 L231.4,396.3 L232.4,397.4 L233.4,398.6 L234.4,399.8 L235.4,400.6 L236.4,401.4 L237.4,402.7 L238.4,403.8 L239.4,405.3 L240.4,406.8 L241.4,407.9 L242.4,409.8 L243.5,411.5 L244.5,413.2 L245.5,415.2 L246.5,416.4 L247.5,417.7 L248.5,419.2 L249.5,420.3 L250.5,422.0 L251.5,422.9 L252.5,423.7 L253.5,424.9 L254.5,426.0 L255.5,428.0 L256.5,429.7 L257.5,430.8 L258.5,432.2 L259.5,433.0 L260.5,434.0 L261.5,436.3 L262.5,437.8 L263.5,439.8 L264.5,442.0 L265.5,443.6 L266.5,445.3 L267.5,446.9 L268.6,448.1 L269.6,448.9 L270.6,450.5 L271.6,451.8 L272.6,453.3 L273.6,454.7 L274.6,455.6 L275.6,456.2 L276.6,457.3 L277.6,458.4 L278.6,459.4 L279.6,460.5 L280.6,461.2 L281.6,462.0 L282.6,462.8 L283.6,463.2 L284.6,463.8 L285.6,464.9 L286.6,465.3 L287.6,466.1 L288.6,466.8 L289.6,467.2 L290.6,468.0 L291.6,468.2 L292.6,468.7 L293.7,468.8 L294.7,469.0 L295.7,470.0 L296.7,470.3 L297.7,471.1 L298.7,472.0 L299.7,472.4 L300.7,472.8 L301.7,473.3 L302.7,473.3 L303.7,473.4 L304.7,473.6 L305.7,474.0 L306.7,474.5 L307.7,475.1 L308.7,475.5 L309.7,475.8 L310.7,476.1 L311.7,476.6 L312.7,477.3 L313.7,478.2 L314.7,478.9 L315.7,479.3 L316.7,479.7 L317.7,479.7 L318.8,480.4 L319.8,480.9 L320.8,481.3 L321.8,481.7 L322.8,481.7 L323.8,481.4 L324.8,481.7 L325.8,482.4 L326.8,482.7 L327.8,483.3 L328.8,484.0 L329.8,484.0 L330.8,484.4 L331.8,484.7 L332.8,484.7 L333.8,485.3 L334.8,485.4 L335.8,486.2 L336.8,486.5 L337.8,486.8 L338.8,487.1 L339.8,487.3 L340.8,487.5 L341.8,487.0 L342.8,487.5 L343.9,487.8 L344.9,488.0 L345.9,488.7 L346.9,488.8 L347.9,488.8 L348.9,489.2 L349.9,489.3 L350.9,489.2 L351.9,489.5 L352.9,489.6 L353.9,489.5"/>
<path class="c" d="M124.0,480.4 L125.0,479.4 L126.0,478.4 L127.0,476.6 L128.0,474.9 L129.0,473.1 L130.0,470.6 L131.0,468.1 L132.0,465.6 L133.0,463.2 L134.0,460.6 L135.0,457.6 L136.0,454.3 L137.0,450.9 L138.0,447.4 L139.0,443.7 L140.0,440.4 L141.0,437.1 L142.0,434.2 L143.1,431.6 L144.1,428.5 L145.1,425.5 L146.1,422.6 L147.1,419.4 L148.1,416.2 L149.1,412.9 L150.1,409.3 L151.1,405.6 L152.1,402.4 L153.1,399.5 L154.1,396.3 L155.1,393.7 L156.1,391.0 L157.1,388.0 L158.1,384.9 L159.1,382.1 L160.1,379.0 L161.1,375.8 L162.1,373.1 L163.1,370.2 L164.1,367.5 L165.1,365.0 L166.1,362.9 L167.1,360.2 L168.2,357.5 L169.2,355.4 L170.2,353.2 L171.2,351.6 L172.2,349.8 L173.2,348.2 L174.2,346.8 L175.2,345.7 L176.2,344.4 L177.2,342.9 L178.2,341.5 L179.2,339.6 L180.2,338.5 L181.2,337.6 L182.2,336.5 L183.2,335.7 L184.2,335.1 L185.2,334.2 L186.2,333.9 L187.2,333.5 L188.2,333.4 L189.2,333.7 L190.2,333.9 L191.2,334.5 L192.2,335.3 L193.3,336.3 L194.3,337.0 L195.3,337.5 L196.3,338.0 L197.3,338.7 L198.3,340.4 L199.3,342.7 L200.3,344.7 L201.3,346.7 L202.3,348.9 L203.3,350.9 L204.3,353.4 L205.3,355.8 L206.3,358.4 L207.3,360.7 L208.3,362.4 L209.3,364.1 L210.3,365.4 L211.3,366.6 L212.3,368.2 L213.3,369.9 L214.3,371.8 L215.3,373.7 L216.3,375.4 L217.3,376.7 L218.4,377.6 L219.4,378.8 L220.4,380.0 L221.4,381.6 L222.4,383.0 L223.4,384.6 L224.4,386.1 L225.4,387.3 L226.4,388.4 L227.4,389.3 L228.4,390.5 L229.4,391.9 L230.4,393.4 L231.4,394.9 L232.4,395.7 L233.4,396.5 L234.4,397.4 L235.4,398.5 L236.4,399.7 L237.4,400.9 L238.4,402.3 L239.4,403.6 L240.4,405.1 L241.4,406.4 L242.4,408.3 L243.5,410.0 L244.5,411.8 L245.5,414.0 L246.5,415.4 L247.5,416.7 L248.5,418.0 L249.5,418.7 L250.5,419.5 L251.5,420.2 L252.5,421.6 L253.5,422.7 L254.5,424.3 L255.5,426.0 L256.5,426.9 L257.5,428.6 L258.5,429.8 L259.5,431.5 L260.5,433.5 L261.5,435.1 L262.5,436.9 L263.5,438.3 L264.5,439.9 L265.5,441.7 L266.5,443.2 L267.5,444.9 L268.6,446.4 L269.6,447.9 L270.6,449.5 L271.6,450.7 L272.6,451.8 L273.6,453.1 L274.6,453.7 L275.6,454.7 L276.6,456.2 L277.6,456.5 L278.6,457.6 L279.6,458.7 L280.6,458.9 L281.6,460.8 L282.6,461.2 L283.6,462.1 L284.6,463.5 L285.6,463.9 L286.6,465.0 L287.6,465.5 L288.6,465.7 L289.6,466.3 L290.6,466.7 L291.6,467.2 L292.6,468.1 L293.7,468.3 L294.7,469.0 L295.7,469.6 L296.7,469.6 L297.7,470.5 L298.7,471.1 L299.7,471.2 L300.7,471.9 L301.7,472.0 L302.7,472.3 L303.7,473.1 L304.7,473.4 L305.7,474.2 L306.7,474.7 L307.7,475.3 L308.7,475.9 L309.7,476.3 L310.7,476.8 L311.7,476.9 L312.7,477.1 L313.7,477.5 L314.7,478.2 L315.7,479.1 L316.7,479.7 L317.7,480.1 L318.8,480.5 L319.8,480.5 L320.8,480.7 L321.8,481.3 L322.8,481.9 L323.8,482.0 L324.8,482.2 L325.8,482.6 L326.8,482.8 L327.8,483.3 L328.8,484.0 L329.8,484.0 L330.8,484.2 L331.8,484.5 L332.8,484.3 L333.8,484.8 L334.8,485.0 L335.8,485.3 L336.8,485.8 L337.8,486.1 L338.8,486.6 L339.8,487.0 L340.8,487.1 L341.8,487.1 L342.8,487.1 L343.9,487.4 L344.9,488.1 L345.9,488.3 L346.9,488.9 L347.9,489.1 L348.9,489.2 L349.9,489.3 L350.9,489.4 L351.9,489.5 L352.9,489.6 L353.9,489.6"/>
<path class="c" d="M124.0,479.8 L125.0,479.0 L126.0,477.2 L127.0,475.2 L128.0,473.4 L129.0,471.2 L130.0,469.4 L131.0,467.6 L132.0,465.7 L133.0,463.6 L134.0,460.8 L135.0,457.1 L136.0,453.6 L137.0,450.0 L138.0,446.3 L139.0,443.2 L140.0,439.9 L141.0,436.9 L142.0,433.7 L143.1,430.7 L144.1,428.1 L145.1,424.9 L146.1,421.6 L147.1,418.5 L148.1,414.8 L149.1,411.5 L150.1,408.0 L151.1,404.7 L152.1,401.1 L153.1,397.6 L154.1,394.6 L155.1,391.3 L156.1,388.5 L157.1,385.8 L158.1,382.9 L159.1,380.2 L160.1,377.2 L161.1,374.3 L162.1,371.3 L163.1,368.1 L164.1,365.6 L165.1,362.6 L166.1,360.4 L167.1,358.3 L168.2,355.7 L169.2,353.7 L170.2,351.9 L171.2,349.6 L172.2,348.1 L173.2,347.0 L174.2,345.3 L175.2,344.5 L176.2,343.1 L177.2,341.8 L178.2,340.3 L179.2,339.0 L180.2,337.6 L181.2,336.2 L182.2,335.4 L183.2,334.6 L184.2,333.7 L185.2,332.7 L186.2,331.9 L187.2,331.4 L188.2,331.6 L189.2,331.9 L190.2,332.3 L191.2,333.3 L192.2,333.9 L193.3,334.5 L194.3,335.7 L195.3,336.1 L196.3,337.2 L197.3,338.6 L198.3,339.9 L199.3,341.6 L200.3,343.1 L201.3,344.9 L202.3,347.3 L203.3,349.1 L204.3,351.6 L205.3,353.9 L206.3,355.3 L207.3,357.4 L208.3,359.6 L209.3,361.2 L210.3,363.6 L211.3,365.7 L212.3,366.9 L213.3,368.6 L214.3,370.0 L215.3,372.0 L216.3,373.8 L217.3,375.4 L218.4,376.6 L219.4,377.8 L220.4,379.0 L221.4,379.9 L222.4,381.0 L223.4,382.1 L224.4,383.3 L225.4,384.8 L226.4,386.1 L227.4,387.3 L228.4,388.7 L229.4,390.1 L230.4,391.4 L231.4,392.9 L232.4,394.0 L233.4,395.6 L234.4,396.9 L235.4,397.7 L236.4,398.8 L237.4,398.8 L238.4,399.8 L239.4,401.1 L240.4,402.9 L241.4,404.6 L242.4,406.5 L243.5,408.1 L244.5,409.8 L245.5,411.4 L246.5,412.6 L247.5,414.0 L248.5,415.2 L249.5,416.9 L250.5,417.8 L251.5,419.2 L252.5,420.4 L253.5,421.8 L254.5,423.6 L255.5,425.2 L256.5,426.6 L257.5,427.6 L258.5,428.4 L259.5,429.8 L260.5,431.4 L261.5,433.2 L262.5,434.9 L263.5,436.4 L264.5,438.1 L265.5,440.0 L266.5,441.7 L267.5,443.9 L268.6,445.6 L269.6,447.2 L270.6,448.5 L271.6,449.3 L272.6,450.6 L273.6,452.1 L274.6,453.3 L275.6,454.5 L276.6,455.3 L277.6,455.9 L278.6,457.1 L279.6,458.1 L280.6,459.5 L281.6,460.3 L282.6,460.9 L283.6,461.8 L284.6,462.0 L285.6,462.7 L286.6,463.2 L287.6,463.8 L288.6,464.6 L289.6,465.5 L290.6,466.5 L291.6,467.3 L292.6,467.9 L293.7,468.5 L294.7,468.8 L295.7,469.2 L296.7,469.8 L297.7,470.3 L298.7,470.9 L299.7,471.2 L300.7,471.2 L301.7,471.5 L302.7,472.0 L303.7,472.7 L304.7,473.7 L305.7,474.4 L306.7,474.9 L307.7,475.5 L308.7,475.9 L309.7,476.2 L310.7,476.4 L311.7,476.6 L312.7,476.7 L313.7,477.3 L314.7,478.0 L315.7,478.3 L316.7,479.2 L317.7,479.5 L318.8,479.7 L319.8,480.1 L320.8,480.0 L321.8,480.5 L322.8,480.9 L323.8,481.6 L324.8,482.3 L325.8,482.6 L326.8,483.0 L327.8,482.7 L328.8,482.9 L329.8,483.0 L330.8,483.6 L331.8,484.3 L332.8,484.9 L333.8,485.6 L334.8,485.9 L335.8,486.3 L336.8,486.3 L337.8,486.6 L338.8,486.9 L339.8,487.0 L340.8,487.4 L341.8,487.8 L342.8,488.0 L343.9,488.2 L344.9,488.4 L345.9,487.9 L346.9,488.3 L347.9,488.6 L348.9,489.0 L349.9,489.3 L350.9,489.4 L351.9,489.5 L352.9,489.6 L353.9,489.6"/>
<path class="c" d="M124.0,480.1 L125.0,478.9 L126.0,477.7 L127.0,476.0 L128.0,474.2 L129.0,472.2 L130.0,469.8 L131.0,467.4 L132.0,465.2 L133.0,463.0 L134.0,459.8 L135.0,456.8 L136.0,453.5 L137.0,450.0 L138.0,446.8 L139.0,443.6 L140.0,439.8 L141.0,436.2 L142.0,433.0 L143.1,429.6 L144.1,426.9 L145.1,424.2 L146.1,421.2 L147.1,417.5 L148.1,413.6 L149.1,409.5 L150.1,405.9 L151.1,402.3 L152.1,399.2 L153.1,396.3 L154.1,393.1 L155.1,390.5 L156.1,387.2 L157.1,383.6 L158.1,380.5 L159.1,377.7 L160.1,375.3 L161.1,372.6 L162.1,370.3 L163.1,367.2 L164.1,364.7 L165.1,362.4 L166.1,359.5 L167.1,357.5 L168.2,354.7 L169.2,352.2 L170.2,349.9 L171.2,347.9 L172.2,346.4 L173.2,344.9 L174.2,343.8 L175.2,342.7 L176.2,341.3 L177.2,339.8 L178.2,338.9 L179.2,337.6 L180.2,336.6 L181.2,335.1 L182.2,333.6 L183.2,332.5 L184.2,331.6 L185.2,331.6 L186.2,330.8 L187.2,330.6 L188.2,330.6 L189.2,330.9 L190.2,331.7 L191.2,332.3 L192.2,333.0 L193.3,333.0 L194.3,333.6 L195.3,334.0 L196.3,334.8 L197.3,336.5 L198.3,338.5 L199.3,340.2 L200.3,341.8 L201.3,343.3 L202.3,344.8 L203.3,347.2 L204.3,349.7 L205.3,352.0 L206.3,354.0 L207.3,355.0 L208.3,356.5 L209.3,357.9 L210.3,359.8 L211.3,362.0 L212.3,363.5 L213.3,365.3 L214.3,367.2 L215.3,368.9 L216.3,370.9 L217.3,372.6 L218.4,373.4 L219.4,374.8 L220.4,376.3 L221.4,377.9 L222.4,378.8 L223.4,380.2 L224.4,381.5 L225.4,382.5 L226.4,384.2 L227.4,385.4 L228.4,386.9 L229.4,388.0 L230.4,389.1 L231.4,390.3 L232.4,391.3 L233.4,392.6 L234.4,394.1 L235.4,395.3 L236.4,396.5 L237.4,397.8 L238.4,398.5 L239.4,399.6 L240.4,400.5 L241.4,401.9 L242.4,403.4 L243.5,405.1 L244.5,407.3 L245.5,409.3 L246.5,410.7 L247.5,412.7 L248.5,413.9 L249.5,414.9 L250.5,416.7 L251.5,417.4 L252.5,418.5 L253.5,420.4 L254.5,421.5 L255.5,423.1 L256.5,425.0 L257.5,425.7 L258.5,427.2 L259.5,428.7 L260.5,430.4 L261.5,431.9 L262.5,433.5 L263.5,435.3 L264.5,436.7 L265.5,438.6 L266.5,440.6 L267.5,442.3 L268.6,444.1 L269.6,446.4 L270.6,448.1 L271.6,449.6 L272.6,450.8 L273.6,451.4 L274.6,452.2 L275.6,453.2 L276.6,454.0 L277.6,455.3 L278.6,456.0 L279.6,457.2 L280.6,458.7 L281.6,459.4 L282.6,460.5 L283.6,460.9 L284.6,461.5 L285.6,462.5 L286.6,463.2 L287.6,463.9 L288.6,464.4 L289.6,464.7 L290.6,465.5 L291.6,466.0 L292.6,466.7 L293.7,467.6 L294.7,468.3 L295.7,469.0 L296.7,469.6 L297.7,469.8 L298.7,470.2 L299.7,470.6 L300.7,470.9 L301.7,471.6 L302.7,472.2 L303.7,472.2 L304.7,472.8 L305.7,472.9 L306.7,473.4 L307.7,473.9 L308.7,474.0 L309.7,474.5 L310.7,475.0 L311.7,475.7 L312.7,476.4 L313.7,477.1 L314.7,476.7 L315.7,477.3 L316.7,477.8 L317.7,478.3 L318.8,479.4 L319.8,479.8 L320.8,480.0 L321.8,480.3 L322.8,480.6 L323.8,481.5 L324.8,481.9 L325.8,482.4 L326.8,482.6 L327.8,482.3 L328.8,482.9 L329.8,483.0 L330.8,483.3 L331.8,483.8 L332.8,483.7 L333.8,484.8 L334.8,484.8 L335.8,485.3 L336.8,485.9 L337.8,485.5 L338.8,486.2 L339.8,486.5 L340.8,487.0 L341.8,487.3 L342.8,487.4 L343.9,487.8 L344.9,488.0 L345.9,488.4 L346.9,488.4 L347.9,488.8 L348.9,488.5 L349.9,489.0 L350.9,489.4 L351.9,489.3 L352.9,489.4 L353.9,489.5"/>
<path class="c" d="M124.0,478.5 L125.0,477.5 L126.0,476.1 L127.0,474.5 L128.0,472.9 L129.0,471.1 L130.0,469.3 L131.0,467.3 L132.0,465.3 L133.0,463.2 L134.0,460.5 L135.0,457.5 L136.0,453.8 L137.0,450.5 L138.0,447.1 L139.0,443.7 L140.0,440.3 L141.0,436.6 L142.0,433.2 L143.1,429.8 L144.1,426.4 L145.1,423.0 L146.1,419.4 L147.1,415.3 L148.1,411.7 L149.1,408.3 L150.1,405.2 L151.1,401.9 L152.1,398.7 L153.1,395.2 L154.1,391.9 L155.1,389.0 L156.1,385.5 L157.1,382.4 L158.1,378.9 L159.1,375.6 L160.1,372.5 L161.1,369.9 L162.1,367.5 L163.1,365.1 L164.1,362.9 L165.1,360.1 L166.1,357.8 L167.1,355.2 L168.2,353.1 L169.2,351.2 L170.2,348.9 L171.2,347.2 L172.2,345.3 L173.2,343.5 L174.2,342.5 L175.2,341.4 L176.2,340.0 L177.2,338.6 L178.2,336.7 L179.2,335.0 L180.2,333.7 L181.2,332.1 L182.2,331.6 L183.2,330.8 L184.2,329.9 L185.2,329.5 L186.2,328.7 L187.2,328.5 L188.2,328.6 L189.2,329.0 L190.2,330.1 L191.2,330.5 L192.2,331.5 L193.3,332.2 L194.3,332.3 L195.3,333.0 L196.3,333.9 L197.3,334.8 L198.3,336.5 L199.3,338.2 L200.3,339.9 L201.3,341.5 L202.3,343.1 L203.3,344.6 L204.3,346.7 L205.3,349.1 L206.3,351.3 L207.3,353.3 L208.3,354.5 L209.3,356.2 L210.3,357.7 L211.3,359.4 L212.3,361.2 L213.3,362.9 L214.3,364.6 L215.3,366.6 L216.3,368.3 L217.3,369.9 L218.4,371.4 L219.4,372.8 L220.4,374.2 L221.4,375.3 L222.4,376.6 L223.4,377.9 L224.4,379.4 L225.4,380.8 L226.4,381.8 L227.4,383.2 L228.4,384.2 L229.4,385.3 L230.4,386.5 L231.4,387.9 L232.4,389.4 L233.4,391.3 L234.4,392.6 L235.4,393.6 L236.4,394.5 L237.4,395.3 L238.4,396.9 L239.4,398.2 L240.4,399.8 L241.4,401.2 L242.4,402.3 L243.5,403.9 L244.5,405.8 L245.5,407.8 L246.5,409.6 L247.5,411.1 L248.5,412.3 L249.5,413.2 L250.5,414.1 L251.5,415.0 L252.5,416.4 L253.5,417.5 L254.5,419.2 L255.5,421.6 L256.5,423.0 L257.5,424.7 L258.5,426.1 L259.5,427.2 L260.5,428.5 L261.5,430.3 L262.5,431.9 L263.5,433.3 L264.5,436.0 L265.5,437.9 L266.5,439.8 L267.5,441.6 L268.6,442.9 L269.6,444.8 L270.6,446.7 L271.6,448.2 L272.6,449.1 L273.6,450.3 L274.6,451.2 L275.6,452.1 L276.6,453.1 L277.6,453.9 L278.6,454.7 L279.6,455.6 L280.6,456.5 L281.6,457.5 L282.6,458.5 L283.6,459.1 L284.6,460.1 L285.6,460.8 L286.6,461.7 L287.6,462.2 L288.6,463.0 L289.6,463.5 L290.6,463.9 L291.6,465.3 L292.6,465.9 L293.7,466.8 L294.7,467.4 L295.7,468.1 L296.7,469.0 L297.7,469.7 L298.7,470.1 L299.7,470.0 L300.7,470.5 L301.7,470.7 L302.7,471.4 L303.7,472.2 L304.7,472.2 L305.7,472.9 L306.7,473.4 L307.7,473.9 L308.7,474.5 L309.7,475.0 L310.7,475.3 L311.7,475.9 L312.7,476.7 L313.7,477.2 L314.7,477.9 L315.7,478.2 L316.7,477.9 L317.7,478.2 L318.8,478.5 L319.8,478.7 L320.8,479.6 L321.8,479.6 L322.8,479.9 L323.8,480.4 L324.8,481.1 L325.8,481.7 L326.8,482.0 L327.8,482.5 L328.8,482.4 L329.8,483.3 L330.8,483.9 L331.8,483.8 L332.8,484.5 L333.8,484.8 L334.8,484.9 L335.8,485.7 L336.8,485.8 L337.8,486.1 L338.8,486.7 L339.8,486.4 L340.8,486.8 L341.8,487.0 L342.8,487.8 L343.9,488.2 L344.9,488.5 L345.9,488.7 L346.9,488.7 L347.9,488.5 L348.9,488.4 L349.9,488.6 L350.9,488.8 L351.9,488.9 L352.9,489.0 L353.9,489.4"/>
<path class="c" d="M124.0,478.0 L125.0,477.2 L126.0,475.8 L127.0,474.2 L128.0,472.9 L129.0,471.1 L130.0,468.9 L131.0,466.9 L132.0,464.9 L133.0,462.5 L134.0,459.8 L135.0,456.9 L136.0,453.1 L137.0,450.0 L138.0,446.6 L139.0,442.8 L140.0,439.5 L141.0,435.9 L142.0,432.6 L143.1,429.0 L144.1,425.2 L145.1,421.7 L146.1,418.3 L147.1,415.2 L148.1,412.1 L149.1,408.4 L150.1,404.7 L151.1,401.2 L152.1,397.4 L153.1,394.1 L154.1,390.5 L155.1,387.2 L156.1,383.8 L157.1,380.8 L158.1,377.7 L159.1,374.8 L160.1,371.9 L161.1,369.1 L162.1,366.2 L163.1,363.1 L164.1,360.8 L165.1,357.9 L166.1,355.8 L167.1,353.6 L168.2,350.7 L169.2,348.9 L170.2,347.1 L171.2,345.2 L172.2,344.0 L173.2,342.1 L174.2,340.3 L175.2,339.1 L176.2,337.5 L177.2,336.7 L178.2,335.3 L179.2,334.1 L180.2,333.1 L181.2,331.0 L182.2,329.9 L183.2,329.0 L184.2,327.9 L185.2,327.6 L186.2,327.7 L187.2,327.3 L188.2,327.5 L189.2,327.3 L190.2,327.6 L191.2,328.1 L192.2,328.9 L193.3,330.1 L194.3,330.5 L195.3,331.8 L196.3,332.8 L197.3,334.0 L198.3,335.3 L199.3,336.3 L200.3,337.5 L201.3,338.9 L202.3,340.7 L203.3,342.8 L204.3,344.9 L205.3,347.0 L206.3,348.9 L207.3,350.8 L208.3,352.5 L209.3,353.6 L210.3,355.2 L211.3,356.6 L212.3,358.3 L213.3,360.3 L214.3,362.1 L215.3,364.1 L216.3,366.4 L217.3,368.3 L218.4,369.7 L219.4,371.0 L220.4,372.1 L221.4,373.2 L222.4,374.1 L223.4,375.7 L224.4,376.8 L225.4,378.4 L226.4,380.1 L227.4,381.5 L228.4,383.1 L229.4,384.2 L230.4,385.3 L231.4,386.0 L232.4,387.4 L233.4,389.0 L234.4,390.7 L235.4,392.2 L236.4,392.8 L237.4,394.3 L238.4,395.2 L239.4,396.4 L240.4,397.9 L241.4,398.8 L242.4,400.2 L243.5,401.6 L244.5,403.9 L245.5,405.7 L246.5,407.2 L247.5,409.3 L248.5,410.5 L249.5,411.6 L250.5,412.4 L251.5,413.3 L252.5,414.4 L253.5,415.9 L254.5,417.8 L255.5,419.5 L256.5,420.9 L257.5,422.5 L258.5,424.3 L259.5,425.9 L260.5,427.3 L261.5,428.7 L262.5,430.2 L263.5,431.7 L264.5,433.8 L265.5,436.3 L266.5,438.3 L267.5,440.5 L268.6,442.4 L269.6,443.9 L270.6,445.3 L271.6,446.5 L272.6,448.1 L273.6,449.7 L274.6,451.4 L275.6,452.6 L276.6,453.4 L277.6,453.8 L278.6,454.4 L279.6,455.3 L280.6,456.0 L281.6,457.2 L282.6,457.8 L283.6,458.2 L284.6,459.0 L285.6,459.4 L286.6,460.1 L287.6,461.5 L288.6,462.5 L289.6,463.6 L290.6,464.8 L291.6,465.5 L292.6,466.1 L293.7,467.0 L294.7,467.4 L295.7,467.7 L296.7,468.5 L297.7,468.5 L298.7,468.7 L299.7,469.2 L300.7,469.7 L301.7,470.5 L302.7,471.1 L303.7,471.8 L304.7,472.4 L305.7,473.1 L306.7,473.9 L307.7,474.1 L308.7,474.3 L309.7,474.7 L310.7,474.9 L311.7,475.3 L312.7,476.2 L313.7,476.5 L314.7,476.8 L315.7,477.4 L316.7,477.9 L317.7,478.3 L318.8,479.2 L319.8,479.4 L320.8,479.3 L321.8,479.5 L322.8,479.6 L323.8,480.5 L324.8,480.7 L325.8,481.6 L326.8,481.8 L327.8,481.8 L328.8,482.5 L329.8,482.7 L330.8,483.4 L331.8,483.5 L332.8,483.7 L333.8,483.8 L334.8,484.6 L335.8,485.3 L336.8,485.6 L337.8,485.9 L338.8,485.7 L339.8,486.0 L340.8,486.4 L341.8,486.7 L342.8,487.2 L343.9,487.6 L344.9,487.6 L345.9,488.1 L346.9,488.1 L347.9,488.2 L348.9,488.4 L349.9,488.6 L350.9,488.8 L351.9,489.0 L352.9,489.0 L353.9,489.4"/>
<path class="c" d="M124.0,477.5 L125.0,476.6 L126.0,475.0 L127.0,473.1 L128.0,471.5 L129.0,469.9 L130.0,468.5 L131.0,466.8 L132.0,465.0 L133.0,462.5 L134.0,459.5 L135.0,456.5 L136.0,453.5 L137.0,449.7 L138.0,446.4 L139.0,442.6 L140.0,438.0 L141.0,434.4 L142.0,431.2 L143.1,427.7 L144.1,424.6 L145.1,420.9 L146.1,417.1 L147.1,413.3 L148.1,409.8 L149.1,406.4 L150.1,402.8 L151.1,398.9 L152.1,395.4 L153.1,392.2 L154.1,388.7 L155.1,385.4 L156.1,381.7 L157.1,378.7 L158.1,375.6 L159.1,373.0 L160.1,370.3 L161.1,367.5 L162.1,364.9 L163.1,362.2 L164.1,359.3 L165.1,356.8 L166.1,354.7 L167.1,352.5 L168.2,350.2 L169.2,347.7 L170.2,345.8 L171.2,343.9 L172.2,342.7 L173.2,341.3 L174.2,339.7 L175.2,338.5 L176.2,336.9 L177.2,335.3 L178.2,333.8 L179.2,332.8 L180.2,331.1 L181.2,330.0 L182.2,329.2 L183.2,327.8 L184.2,327.1 L185.2,326.2 L186.2,325.5 L187.2,325.7 L188.2,326.5 L189.2,327.3 L190.2,327.9 L191.2,328.0 L192.2,328.3 L193.3,328.7 L194.3,329.1 L195.3,330.2 L196.3,331.3 L197.3,332.2 L198.3,333.7 L199.3,334.8 L200.3,335.7 L201.3,337.5 L202.3,338.7 L203.3,340.6 L204.3,342.7 L205.3,344.5 L206.3,346.6 L207.3,348.2 L208.3,349.8 L209.3,351.2 L210.3,352.7 L211.3,354.2 L212.3,355.7 L213.3,357.5 L214.3,359.2 L215.3,361.3 L216.3,363.5 L217.3,365.6 L218.4,367.2 L219.4,368.9 L220.4,370.6 L221.4,372.1 L222.4,373.2 L223.4,374.4 L224.4,375.3 L225.4,376.2 L226.4,377.3 L227.4,378.7 L228.4,380.2 L229.4,381.7 L230.4,383.0 L231.4,384.3 L232.4,385.7 L233.4,387.1 L234.4,388.7 L235.4,389.9 L236.4,391.0 L237.4,392.3 L238.4,393.5 L239.4,394.6 L240.4,395.7 L241.4,397.1 L242.4,398.1 L243.5,399.9 L244.5,402.2 L245.5,403.5 L246.5,405.5 L247.5,407.3 L248.5,408.7 L249.5,410.2 L250.5,411.4 L251.5,412.1 L252.5,413.4 L253.5,414.7 L254.5,416.3 L255.5,418.4 L256.5,420.2 L257.5,421.9 L258.5,423.5 L259.5,424.3 L260.5,425.6 L261.5,427.3 L262.5,429.0 L263.5,431.2 L264.5,432.9 L265.5,434.6 L266.5,436.2 L267.5,438.5 L268.6,440.6 L269.6,442.8 L270.6,445.1 L271.6,446.0 L272.6,447.4 L273.6,448.3 L274.6,448.7 L275.6,450.1 L276.6,451.0 L277.6,452.3 L278.6,453.3 L279.6,454.5 L280.6,455.8 L281.6,456.6 L282.6,457.9 L283.6,458.6 L284.6,458.8 L285.6,459.7 L286.6,460.5 L287.6,461.5 L288.6,463.1 L289.6,463.9 L290.6,464.7 L291.6,465.5 L292.6,465.4 L293.7,465.6 L294.7,466.1 L295.7,466.4 L296.7,467.2 L297.7,467.9 L298.7,468.9 L299.7,469.9 L300.7,470.4 L301.7,470.9 L302.7,471.2 L303.7,471.5 L304.7,471.6 L305.7,472.2 L306.7,472.7 L307.7,473.1 L308.7,474.2 L309.7,474.9 L310.7,475.1 L311.7,475.6 L312.7,475.5 L313.7,475.9 L314.7,476.3 L315.7,476.9 L316.7,477.5 L317.7,478.0 L318.8,478.5 L319.8,478.4 L320.8,479.1 L321.8,479.3 L322.8,480.0 L323.8,480.8 L324.8,480.9 L325.8,481.8 L326.8,481.9 L327.8,482.5 L328.8,482.5 L329.8,482.6 L330.8,482.9 L331.8,483.0 L332.8,483.7 L333.8,483.9 L334.8,484.7 L335.8,484.7 L336.8,485.1 L337.8,485.3 L338.8,485.6 L339.8,486.2 L340.8,486.6 L341.8,487.0 L342.8,487.2 L343.9,487.8 L344.9,487.8 L345.9,488.2 L346.9,488.0 L347.9,488.2 L348.9,488.5 L349.9,488.6 L350.9,489.2 L351.9,488.9 L352.9,489.0 L353.9,489.2"/>
<path class="c" d="M124.0,477.1 L125.0,475.9 L126.0,474.5 L127.0,473.3 L128.0,471.5 L129.0,470.0 L130.0,468.3 L131.0,466.4 L132.0,464.5 L133.0,462.3 L134.0,459.9 L135.0,456.8 L136.0,453.4 L137.0,450.3 L138.0,446.2 L139.0,441.8 L140.0,437.5 L141.0,433.8 L142.0,430.5 L143.1,427.4 L144.1,424.2 L145.1,420.0 L146.1,416.2 L147.1,412.2 L148.1,408.1 L149.1,404.6 L150.1,401.2 L151.1,397.8 L152.1,394.4 L153.1,391.0 L154.1,387.6 L155.1,384.2 L156.1,380.9 L157.1,377.7 L158.1,374.7 L159.1,371.7 L160.1,368.8 L161.1,366.2 L162.1,363.5 L163.1,360.4 L164.1,357.5 L165.1,354.9 L166.1,352.6 L167.1,350.6 L168.2,348.5 L169.2,346.6 L170.2,344.8 L171.2,343.1 L172.2,341.4 L173.2,339.7 L174.2,338.3 L175.2,336.9 L176.2,335.4 L177.2,333.8 L178.2,332.6 L179.2,331.2 L180.2,329.6 L181.2,328.4 L182.2,327.3 L183.2,326.4 L184.2,325.7 L185.2,325.0 L186.2,324.5 L187.2,324.4 L188.2,324.8 L189.2,325.3 L190.2,325.9 L191.2,326.4 L192.2,326.9 L193.3,327.4 L194.3,328.0 L195.3,328.7 L196.3,329.5 L197.3,330.6 L198.3,331.7 L199.3,332.9 L200.3,334.5 L201.3,335.8 L202.3,337.5 L203.3,339.2 L204.3,340.9 L205.3,342.5 L206.3,344.2 L207.3,345.8 L208.3,347.4 L209.3,349.0 L210.3,350.6 L211.3,352.2 L212.3,353.7 L213.3,355.2 L214.3,356.9 L215.3,359.3 L216.3,361.9 L217.3,364.2 L218.4,366.0 L219.4,367.2 L220.4,368.5 L221.4,369.8 L222.4,370.5 L223.4,371.7 L224.4,373.0 L225.4,374.4 L226.4,375.7 L227.4,377.0 L228.4,378.4 L229.4,379.9 L230.4,381.2 L231.4,382.3 L232.4,383.7 L233.4,385.0 L234.4,386.6 L235.4,388.2 L236.4,389.5 L237.4,390.8 L238.4,391.9 L239.4,392.9 L240.4,393.7 L241.4,394.7 L242.4,395.9 L243.5,397.7 L244.5,399.9 L245.5,402.1 L246.5,403.8 L247.5,405.2 L248.5,406.5 L249.5,407.6 L250.5,408.6 L251.5,409.8 L252.5,411.0 L253.5,412.5 L254.5,414.5 L255.5,416.7 L256.5,418.7 L257.5,420.5 L258.5,421.8 L259.5,423.1 L260.5,424.4 L261.5,425.6 L262.5,427.0 L263.5,428.9 L264.5,430.9 L265.5,433.1 L266.5,435.6 L267.5,437.8 L268.6,439.9 L269.6,441.7 L270.6,443.6 L271.6,445.1 L272.6,446.4 L273.6,447.6 L274.6,448.7 L275.6,449.9 L276.6,450.7 L277.6,451.7 L278.6,453.0 L279.6,454.0 L280.6,455.1 L281.6,456.0 L282.6,456.4 L283.6,457.1 L284.6,458.0 L285.6,458.9 L286.6,459.8 L287.6,460.7 L288.6,461.5 L289.6,462.3 L290.6,463.3 L291.6,464.1 L292.6,464.5 L293.7,465.2 L294.7,465.8 L295.7,466.4 L296.7,467.0 L297.7,467.6 L298.7,468.1 L299.7,468.8 L300.7,469.2 L301.7,469.7 L302.7,470.2 L303.7,470.7 L304.7,471.1 L305.7,471.6 L306.7,472.2 L307.7,473.1 L308.7,473.3 L309.7,474.1 L310.7,474.3 L311.7,474.8 L312.7,475.2 L313.7,475.7 L314.7,476.4 L315.7,477.1 L316.7,477.4 L317.7,477.9 L318.8,478.0 L319.8,478.3 L320.8,478.5 L321.8,478.9 L322.8,479.3 L323.8,479.7 L324.8,480.4 L325.8,480.6 L326.8,480.9 L327.8,481.4 L328.8,481.7 L329.8,482.1 L330.8,482.5 L331.8,482.9 L332.8,483.3 L333.8,483.7 L334.8,484.1 L335.8,484.8 L336.8,485.5 L337.8,485.9 L338.8,486.0 L339.8,486.4 L340.8,486.5 L341.8,486.7 L342.8,487.2 L343.9,487.5 L344.9,487.9 L345.9,488.4 L346.9,488.5 L347.9,488.3 L348.9,488.4 L349.9,488.6 L350.9,488.8 L351.9,488.9 L352.9,489.0 L353.9,489.4"/>
<path class="c3" d="M124.7,496.9 L125.7,496.9 L126.7,496.8 L127.7,496.8 L128.7,496.8 L129.7,496.8 L130.7,496.8 L131.7,496.6 L132.7,496.6 L133.7,496.4 L134.7,496.0 L135.7,495.6 L136.7,495.3 L137.7,494.8 L138.7,494.3 L139.7,493.9 L140.7,493.7 L141.7,493.9 L142.8,494.3 L143.8,494.6 L144.8,494.9 L145.8,495.3 L146.8,495.8 L147.8,496.1 L148.8,496.3 L149.8,496.3 L150.8,496.3 L151.8,496.3 L152.8,496.3 L153.8,496.3 L154.8,496.4 L155.8,496.4 L156.8,496.5 L157.8,496.5 L158.8,496.3 L159.8,496.5 L160.8,496.5 L161.8,496.6 L162.8,496.6 L163.8,496.6 L164.8,496.5 L165.8,496.4 L166.8,496.5 L167.9,496.4 L168.9,496.5 L169.9,496.6 L170.9,496.5 L171.9,496.6 L172.9,496.6 L173.9,496.6 L174.9,496.7 L175.9,496.8 L176.9,496.7 L177.9,496.8 L178.9,496.7 L179.9,496.6 L180.9,496.7 L181.9,496.8 L182.9,496.7 L183.9,496.6 L184.9,496.5 L185.9,496.4 L186.9,496.5 L187.9,496.6 L188.9,496.7 L189.9,496.7 L190.9,496.6 L191.9,496.6 L193.0,496.5 L194.0,496.5 L195.0,496.6 L196.0,496.5 L197.0,496.5 L198.0,496.5 L199.0,496.4 L200.0,496.5 L201.0,496.4 L202.0,496.2 L203.0,496.1 L204.0,496.1 L205.0,496.0 L206.0,496.0 L207.0,496.1 L208.0,496.0 L209.0,496.0 L210.0,496.0 L211.0,495.8 L212.0,495.8 L213.0,495.6 L214.0,495.4 L215.0,495.4 L216.0,495.3 L217.0,495.1 L218.1,495.0 L219.1,494.7 L220.1,494.6 L221.1,494.7 L222.1,494.7 L223.1,494.7 L224.1,494.5 L225.1,494.4 L226.1,494.3 L227.1,494.2 L228.1,494.2 L229.1,494.1 L230.1,493.9 L231.1,493.7 L232.1,493.4 L233.1,493.2 L234.1,493.1 L235.1,493.1 L236.1,493.1 L237.1,493.0 L238.1,492.8 L239.1,492.5 L240.1,492.2 L241.1,492.1 L242.1,492.0 L243.2,491.9 L244.2,491.8 L245.2,491.7 L246.2,491.5 L247.2,491.4 L248.2,491.3 L249.2,491.2 L250.2,490.9 L251.2,490.8 L252.2,490.7 L253.2,490.6 L254.2,490.4 L255.2,490.3 L256.2,490.2 L257.2,490.2 L258.2,490.3 L259.2,490.2 L260.2,490.0 L261.2,489.8 L262.2,489.6 L263.2,489.4 L264.2,489.5 L265.2,489.4 L266.2,489.2 L267.2,489.1 L268.3,488.9 L269.3,488.8 L270.3,488.8 L271.3,488.8 L272.3,488.8 L273.3,488.9 L274.3,489.1 L275.3,489.0 L276.3,489.1 L277.3,489.0 L278.3,488.9 L279.3,488.9 L280.3,488.9 L281.3,488.8 L282.3,488.8 L283.3,488.9 L284.3,488.9 L285.3,489.0 L286.3,489.0 L287.3,489.0 L288.3,489.0 L289.3,489.0 L290.3,489.1 L291.3,489.3 L292.3,489.5 L293.4,489.5 L294.4,489.6 L295.4,489.6 L296.4,489.6 L297.4,489.6 L298.4,489.7 L299.4,489.8 L300.4,489.8 L301.4,490.0 L302.4,490.0 L303.4,490.0 L304.4,490.1 L305.4,490.0 L306.4,490.1 L307.4,490.1 L308.4,490.2 L309.4,490.5 L310.4,490.6 L311.4,490.6 L312.4,490.7 L313.4,490.6 L314.4,490.8 L315.4,490.9 L316.4,491.0 L317.4,491.1 L318.5,491.1 L319.5,491.1 L320.5,491.2 L321.5,491.3 L322.5,491.4 L323.5,491.5 L324.5,491.7 L325.5,491.7 L326.5,491.8 L327.5,491.9 L328.5,491.8 L329.5,492.0 L330.5,492.1 L331.5,492.2 L332.5,492.4 L333.5,492.5 L334.5,492.6 L335.5,492.7 L336.5,492.8 L337.5,492.9 L338.5,493.0 L339.5,493.0 L340.5,493.2 L341.5,493.3 L342.5,493.3 L343.6,493.5 L344.6,493.6 L345.6,493.6 L346.6,493.8 L347.6,493.9 L348.6,493.9 L349.6,494.1 L350.6,494.2 L351.6,494.3 L352.6,494.4 L353.6,494.5"/>
<path class="c3" style="stroke-width:1.1" d="M277.3,489.0 L278.3,488.8 L279.3,488.7 L280.3,488.6 L281.3,488.5 L282.3,488.6 L283.3,488.5 L284.3,488.5 L285.3,488.5 L286.3,488.4 L287.3,488.5 L288.3,488.5 L289.3,488.6 L290.3,488.6 L291.3,488.6 L292.3,488.4 L293.4,488.4 L294.4,488.4 L295.4,488.5 L296.4,488.7 L297.4,488.8 L298.4,488.9 L299.4,488.9 L300.4,489.0 L301.4,488.9 L302.4,488.9 L303.4,489.0 L304.4,489.0 L305.4,489.1 L306.4,489.3 L307.4,489.3 L308.4,489.3 L309.4,489.3 L310.4,489.2 L311.4,489.3 L312.4,489.4 L313.4,489.5 L314.4,489.6 L315.4,489.5 L316.4,489.5 L317.4,489.5 L318.5,489.6 L319.5,489.6 L320.5,489.7 L321.5,489.8 L322.5,489.8 L323.5,489.9 L324.5,490.0 L325.5,490.0 L326.5,490.0 L327.5,490.1 L328.5,490.1 L329.5,490.1 L330.5,490.1 L331.5,490.2 L332.5,490.3 L333.5,490.3 L334.5,490.4 L335.5,490.4 L336.5,490.6 L337.5,490.7 L338.5,490.8 L339.5,490.9 L340.5,490.9 L341.5,490.9 L342.5,490.9 L343.6,490.9 L344.6,490.9 L345.6,490.9 L346.6,491.0 L347.6,491.1 L348.6,491.3 L349.6,491.2 L350.6,491.3 L351.6,491.2 L352.6,491.1 L353.6,491.3"/>
<path d="M139.6,329.5 L139.6,368.8" stroke="#000" stroke-width="3.1" stroke-linecap="round" fill="none"/><path d="M139.6,381.8 L133.8,366.8 L145.3,366.8 Z" fill="#000"/>
<path d="M324.0,446.6 L284.7,476.3" stroke="#000" stroke-width="3.1" stroke-linecap="round" fill="none"/><path d="M274.7,483.8 L282.7,470.3 L289.9,479.9 Z" fill="#000"/>
<text class="s" font-size="18.8" x="152.5" y="303.4" textLength="144.5" lengthAdjust="spacingAndGlyphs">DG + HSA + Apo</text>
<text class="s" font-size="18.8" text-anchor="middle" x="360" y="429">DG</text>
<text class="s" font-size="18.8" text-anchor="middle" x="363" y="451">alone</text>
<text class="tb" font-size="21.5" x="4.6" y="425.9"><tspan font-weight="400">(</tspan>b<tspan font-weight="400">)</tspan></text>
</svg></body></html>
